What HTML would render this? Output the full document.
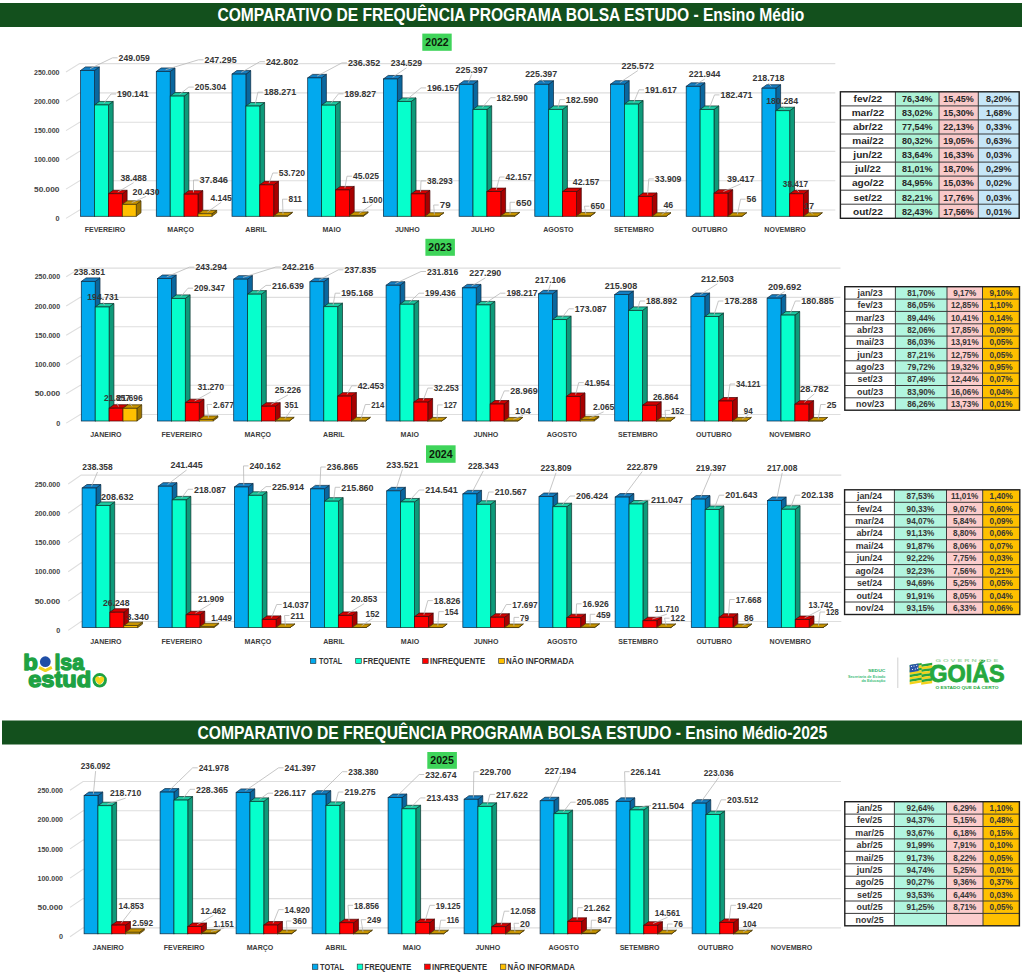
<!DOCTYPE html>
<html><head><meta charset="utf-8"><style>
html,body{margin:0;padding:0;background:#fff;}
svg{display:block;font-family:"Liberation Sans", sans-serif;}
</style></head><body>
<svg width="1024" height="976" viewBox="0 0 1024 976">
<rect width="1024" height="976" fill="#ffffff"/>
<rect x="0" y="3" width="1022" height="24" fill="#13501d"/>
<text x="217.4" y="21.2" font-size="18.2" font-weight="bold" fill="#ffffff" text-anchor="start" textLength="586.9" lengthAdjust="spacingAndGlyphs">COMPARATIVO DE FREQUÊNCIA PROGRAMA BOLSA ESTUDO - Ensino Médio</text>
<rect x="2" y="720.5" width="1020" height="24.0" fill="#13501d"/>
<text x="197.4" y="738.6" font-size="17.6" font-weight="bold" fill="#ffffff" text-anchor="start" textLength="629.9" lengthAdjust="spacingAndGlyphs">COMPARATIVO DE FREQUÊNCIA PROGRAMA BOLSA ESTUDO - Ensino Médio-2025</text>
<rect x="422.3" y="33.6" width="29.4" height="17.2" fill="#3fd45a"/>
<text x="437.0" y="46.2" font-size="11" font-weight="bold" fill="#0b1a0b" text-anchor="middle" textLength="23.4" lengthAdjust="spacingAndGlyphs">2022</text>
<rect x="425.4" y="238.8" width="29.5" height="17.0" fill="#3fd45a"/>
<text x="440.1" y="251.3" font-size="11" font-weight="bold" fill="#0b1a0b" text-anchor="middle" textLength="23.5" lengthAdjust="spacingAndGlyphs">2023</text>
<rect x="426.0" y="445.3" width="29.6" height="17.5" fill="#3fd45a"/>
<text x="440.8" y="458.1" font-size="11" font-weight="bold" fill="#0b1a0b" text-anchor="middle" textLength="23.6" lengthAdjust="spacingAndGlyphs">2024</text>
<rect x="427.3" y="752.0" width="29.6" height="16.8" fill="#3fd45a"/>
<text x="442.1" y="764.4" font-size="11" font-weight="bold" fill="#0b1a0b" text-anchor="middle" textLength="23.6" lengthAdjust="spacingAndGlyphs">2025</text>
<path d="M66,218.4L79.6,210.0L835.3,210.0" fill="none" stroke="#dedede" stroke-width="1.1"/>
<text x="59.5" y="221.0" font-size="7.2" font-weight="bold" fill="#444444" text-anchor="end">0</text>
<path d="M66,189.1L79.6,180.7L835.3,180.7" fill="none" stroke="#dedede" stroke-width="1.1"/>
<text x="59.5" y="191.7" font-size="7.2" font-weight="bold" fill="#444444" text-anchor="end" textLength="25.5" lengthAdjust="spacingAndGlyphs">50.000</text>
<path d="M66,159.8L79.6,151.4L835.3,151.4" fill="none" stroke="#dedede" stroke-width="1.1"/>
<text x="59.5" y="162.4" font-size="7.2" font-weight="bold" fill="#444444" text-anchor="end" textLength="25.5" lengthAdjust="spacingAndGlyphs">100.000</text>
<path d="M66,130.6L79.6,122.2L835.3,122.2" fill="none" stroke="#dedede" stroke-width="1.1"/>
<text x="59.5" y="133.2" font-size="7.2" font-weight="bold" fill="#444444" text-anchor="end" textLength="25.5" lengthAdjust="spacingAndGlyphs">150.000</text>
<path d="M66,101.3L79.6,92.9L835.3,92.9" fill="none" stroke="#dedede" stroke-width="1.1"/>
<text x="59.5" y="103.9" font-size="7.2" font-weight="bold" fill="#444444" text-anchor="end" textLength="25.5" lengthAdjust="spacingAndGlyphs">200.000</text>
<path d="M66,72.0L79.6,63.6L835.3,63.6" fill="none" stroke="#dedede" stroke-width="1.1"/>
<text x="59.5" y="74.6" font-size="7.2" font-weight="bold" fill="#444444" text-anchor="end" textLength="25.5" lengthAdjust="spacingAndGlyphs">250.000</text>
<path d="M94.50,216.30L99.30,212.80L99.30,66.95L94.50,70.45Z" fill="#0a679e" stroke="#0f2f48" stroke-width="0.75"/>
<path d="M80.60,70.45L85.40,66.95L99.30,66.95L94.50,70.45Z" fill="#157fc2" stroke="#0f2f48" stroke-width="0.75"/>
<rect x="80.60" y="70.45" width="13.90" height="145.85" fill="#02a9ee" stroke="#0f2f48" stroke-width="0.75"/>
<path d="M108.40,216.30L113.20,212.80L113.20,101.45L108.40,104.95Z" fill="#0e9a7a" stroke="#0c3a32" stroke-width="0.75"/>
<path d="M94.50,104.95L99.30,101.45L113.20,101.45L108.40,104.95Z" fill="#1fcaa2" stroke="#0c3a32" stroke-width="0.75"/>
<rect x="94.50" y="104.95" width="13.90" height="111.35" fill="#06ffcc" stroke="#0c3a32" stroke-width="0.75"/>
<path d="M122.30,216.30L127.10,212.80L127.10,190.26L122.30,193.76Z" fill="#a80000" stroke="#4a0a0a" stroke-width="0.75"/>
<path d="M108.40,193.76L113.20,190.26L127.10,190.26L122.30,193.76Z" fill="#d40000" stroke="#4a0a0a" stroke-width="0.75"/>
<rect x="108.40" y="193.76" width="13.90" height="22.54" fill="#ff0000" stroke="#4a0a0a" stroke-width="0.75"/>
<path d="M136.20,216.30L141.00,212.80L141.00,200.84L136.20,204.34Z" fill="#9c7400" stroke="#4a3a0a" stroke-width="0.75"/>
<path d="M122.30,204.34L127.10,200.84L141.00,200.84L136.20,204.34Z" fill="#c89400" stroke="#4a3a0a" stroke-width="0.75"/>
<rect x="122.30" y="204.34" width="13.90" height="11.96" fill="#ffc000" stroke="#4a3a0a" stroke-width="0.75"/>
<text x="105.0" y="232.0" font-size="8.1" font-weight="bold" fill="#3c3c3c" text-anchor="middle" textLength="40.7" lengthAdjust="spacingAndGlyphs">FEVEREIRO</text>
<path d="M170.20,216.30L175.00,212.80L175.00,67.98L170.20,71.48Z" fill="#0a679e" stroke="#0f2f48" stroke-width="0.75"/>
<path d="M156.30,71.48L161.10,67.98L175.00,67.98L170.20,71.48Z" fill="#157fc2" stroke="#0f2f48" stroke-width="0.75"/>
<rect x="156.30" y="71.48" width="13.90" height="144.82" fill="#02a9ee" stroke="#0f2f48" stroke-width="0.75"/>
<path d="M184.10,216.30L188.90,212.80L188.90,92.57L184.10,96.07Z" fill="#0e9a7a" stroke="#0c3a32" stroke-width="0.75"/>
<path d="M170.20,96.07L175.00,92.57L188.90,92.57L184.10,96.07Z" fill="#1fcaa2" stroke="#0c3a32" stroke-width="0.75"/>
<rect x="170.20" y="96.07" width="13.90" height="120.23" fill="#06ffcc" stroke="#0c3a32" stroke-width="0.75"/>
<path d="M198.00,216.30L202.80,212.80L202.80,190.64L198.00,194.14Z" fill="#a80000" stroke="#4a0a0a" stroke-width="0.75"/>
<path d="M184.10,194.14L188.90,190.64L202.80,190.64L198.00,194.14Z" fill="#d40000" stroke="#4a0a0a" stroke-width="0.75"/>
<rect x="184.10" y="194.14" width="13.90" height="22.16" fill="#ff0000" stroke="#4a0a0a" stroke-width="0.75"/>
<path d="M211.90,216.30L216.70,212.80L216.70,210.37L211.90,213.87Z" fill="#9c7400" stroke="#4a3a0a" stroke-width="0.75"/>
<path d="M198.00,213.87L202.80,210.37L216.70,210.37L211.90,213.87Z" fill="#c89400" stroke="#4a3a0a" stroke-width="0.75"/>
<rect x="198.00" y="213.87" width="13.90" height="2.43" fill="#ffc000" stroke="#4a3a0a" stroke-width="0.75"/>
<text x="180.6" y="232.0" font-size="8.1" font-weight="bold" fill="#3c3c3c" text-anchor="middle" textLength="26.6" lengthAdjust="spacingAndGlyphs">MARÇO</text>
<path d="M245.90,216.30L250.70,212.80L250.70,70.62L245.90,74.12Z" fill="#0a679e" stroke="#0f2f48" stroke-width="0.75"/>
<path d="M232.00,74.12L236.80,70.62L250.70,70.62L245.90,74.12Z" fill="#157fc2" stroke="#0f2f48" stroke-width="0.75"/>
<rect x="232.00" y="74.12" width="13.90" height="142.18" fill="#02a9ee" stroke="#0f2f48" stroke-width="0.75"/>
<path d="M259.80,216.30L264.60,212.80L264.60,102.55L259.80,106.05Z" fill="#0e9a7a" stroke="#0c3a32" stroke-width="0.75"/>
<path d="M245.90,106.05L250.70,102.55L264.60,102.55L259.80,106.05Z" fill="#1fcaa2" stroke="#0c3a32" stroke-width="0.75"/>
<rect x="245.90" y="106.05" width="13.90" height="110.25" fill="#06ffcc" stroke="#0c3a32" stroke-width="0.75"/>
<path d="M273.70,216.30L278.50,212.80L278.50,181.34L273.70,184.84Z" fill="#a80000" stroke="#4a0a0a" stroke-width="0.75"/>
<path d="M259.80,184.84L264.60,181.34L278.50,181.34L273.70,184.84Z" fill="#d40000" stroke="#4a0a0a" stroke-width="0.75"/>
<rect x="259.80" y="184.84" width="13.90" height="31.46" fill="#ff0000" stroke="#4a0a0a" stroke-width="0.75"/>
<path d="M287.60,216.30L292.40,212.80L292.40,212.33L287.60,215.83Z" fill="#9c7400" stroke="#4a3a0a" stroke-width="0.75"/>
<path d="M273.70,215.83L278.50,212.33L292.40,212.33L287.60,215.83Z" fill="#c89400" stroke="#4a3a0a" stroke-width="0.75"/>
<rect x="273.70" y="215.83" width="13.90" height="0.47" fill="#ffc000" stroke="#4a3a0a" stroke-width="0.75"/>
<text x="256.1" y="232.0" font-size="8.1" font-weight="bold" fill="#3c3c3c" text-anchor="middle" textLength="21.5" lengthAdjust="spacingAndGlyphs">ABRIL</text>
<path d="M321.60,216.30L326.40,212.80L326.40,74.39L321.60,77.89Z" fill="#0a679e" stroke="#0f2f48" stroke-width="0.75"/>
<path d="M307.70,77.89L312.50,74.39L326.40,74.39L321.60,77.89Z" fill="#157fc2" stroke="#0f2f48" stroke-width="0.75"/>
<rect x="307.70" y="77.89" width="13.90" height="138.41" fill="#02a9ee" stroke="#0f2f48" stroke-width="0.75"/>
<path d="M335.50,216.30L340.30,212.80L340.30,101.64L335.50,105.14Z" fill="#0e9a7a" stroke="#0c3a32" stroke-width="0.75"/>
<path d="M321.60,105.14L326.40,101.64L340.30,101.64L335.50,105.14Z" fill="#1fcaa2" stroke="#0c3a32" stroke-width="0.75"/>
<rect x="321.60" y="105.14" width="13.90" height="111.16" fill="#06ffcc" stroke="#0c3a32" stroke-width="0.75"/>
<path d="M349.40,216.30L354.20,212.80L354.20,186.43L349.40,189.93Z" fill="#a80000" stroke="#4a0a0a" stroke-width="0.75"/>
<path d="M335.50,189.93L340.30,186.43L354.20,186.43L349.40,189.93Z" fill="#d40000" stroke="#4a0a0a" stroke-width="0.75"/>
<rect x="335.50" y="189.93" width="13.90" height="26.37" fill="#ff0000" stroke="#4a0a0a" stroke-width="0.75"/>
<path d="M363.30,216.30L368.10,212.80L368.10,211.92L363.30,215.42Z" fill="#9c7400" stroke="#4a3a0a" stroke-width="0.75"/>
<path d="M349.40,215.42L354.20,211.92L368.10,211.92L363.30,215.42Z" fill="#c89400" stroke="#4a3a0a" stroke-width="0.75"/>
<rect x="349.40" y="215.42" width="13.90" height="0.88" fill="#ffc000" stroke="#4a3a0a" stroke-width="0.75"/>
<text x="331.7" y="232.0" font-size="8.1" font-weight="bold" fill="#3c3c3c" text-anchor="middle" textLength="18.4" lengthAdjust="spacingAndGlyphs">MAIO</text>
<path d="M397.30,216.30L402.10,212.80L402.10,75.46L397.30,78.96Z" fill="#0a679e" stroke="#0f2f48" stroke-width="0.75"/>
<path d="M383.40,78.96L388.20,75.46L402.10,75.46L397.30,78.96Z" fill="#157fc2" stroke="#0f2f48" stroke-width="0.75"/>
<rect x="383.40" y="78.96" width="13.90" height="137.34" fill="#02a9ee" stroke="#0f2f48" stroke-width="0.75"/>
<path d="M411.20,216.30L416.00,212.80L416.00,97.93L411.20,101.43Z" fill="#0e9a7a" stroke="#0c3a32" stroke-width="0.75"/>
<path d="M397.30,101.43L402.10,97.93L416.00,97.93L411.20,101.43Z" fill="#1fcaa2" stroke="#0c3a32" stroke-width="0.75"/>
<rect x="397.30" y="101.43" width="13.90" height="114.87" fill="#06ffcc" stroke="#0c3a32" stroke-width="0.75"/>
<path d="M425.10,216.30L429.90,212.80L429.90,190.38L425.10,193.88Z" fill="#a80000" stroke="#4a0a0a" stroke-width="0.75"/>
<path d="M411.20,193.88L416.00,190.38L429.90,190.38L425.10,193.88Z" fill="#d40000" stroke="#4a0a0a" stroke-width="0.75"/>
<rect x="411.20" y="193.88" width="13.90" height="22.42" fill="#ff0000" stroke="#4a0a0a" stroke-width="0.75"/>
<path d="M439.00,216.30L443.80,212.80L443.80,212.75L439.00,216.25Z" fill="#9c7400" stroke="#4a3a0a" stroke-width="0.75"/>
<path d="M425.10,216.25L429.90,212.75L443.80,212.75L439.00,216.25Z" fill="#c89400" stroke="#4a3a0a" stroke-width="0.75"/>
<rect x="425.10" y="216.25" width="13.90" height="0.05" fill="#ffc000" stroke="#4a3a0a" stroke-width="0.75"/>
<text x="407.3" y="232.0" font-size="8.1" font-weight="bold" fill="#3c3c3c" text-anchor="middle" textLength="24.7" lengthAdjust="spacingAndGlyphs">JUNHO</text>
<path d="M473.00,216.30L477.80,212.80L477.80,80.81L473.00,84.31Z" fill="#0a679e" stroke="#0f2f48" stroke-width="0.75"/>
<path d="M459.10,84.31L463.90,80.81L477.80,80.81L473.00,84.31Z" fill="#157fc2" stroke="#0f2f48" stroke-width="0.75"/>
<rect x="459.10" y="84.31" width="13.90" height="131.99" fill="#02a9ee" stroke="#0f2f48" stroke-width="0.75"/>
<path d="M486.90,216.30L491.70,212.80L491.70,105.88L486.90,109.38Z" fill="#0e9a7a" stroke="#0c3a32" stroke-width="0.75"/>
<path d="M473.00,109.38L477.80,105.88L491.70,105.88L486.90,109.38Z" fill="#1fcaa2" stroke="#0c3a32" stroke-width="0.75"/>
<rect x="473.00" y="109.38" width="13.90" height="106.92" fill="#06ffcc" stroke="#0c3a32" stroke-width="0.75"/>
<path d="M500.80,216.30L505.60,212.80L505.60,188.11L500.80,191.61Z" fill="#a80000" stroke="#4a0a0a" stroke-width="0.75"/>
<path d="M486.90,191.61L491.70,188.11L505.60,188.11L500.80,191.61Z" fill="#d40000" stroke="#4a0a0a" stroke-width="0.75"/>
<rect x="486.90" y="191.61" width="13.90" height="24.69" fill="#ff0000" stroke="#4a0a0a" stroke-width="0.75"/>
<path d="M514.70,216.30L519.50,212.80L519.50,212.42L514.70,215.92Z" fill="#9c7400" stroke="#4a3a0a" stroke-width="0.75"/>
<path d="M500.80,215.92L505.60,212.42L519.50,212.42L514.70,215.92Z" fill="#c89400" stroke="#4a3a0a" stroke-width="0.75"/>
<rect x="500.80" y="215.92" width="13.90" height="0.38" fill="#ffc000" stroke="#4a3a0a" stroke-width="0.75"/>
<text x="482.9" y="232.0" font-size="8.1" font-weight="bold" fill="#3c3c3c" text-anchor="middle" textLength="23.9" lengthAdjust="spacingAndGlyphs">JULHO</text>
<path d="M548.70,216.30L553.50,212.80L553.50,80.81L548.70,84.31Z" fill="#0a679e" stroke="#0f2f48" stroke-width="0.75"/>
<path d="M534.80,84.31L539.60,80.81L553.50,80.81L548.70,84.31Z" fill="#157fc2" stroke="#0f2f48" stroke-width="0.75"/>
<rect x="534.80" y="84.31" width="13.90" height="131.99" fill="#02a9ee" stroke="#0f2f48" stroke-width="0.75"/>
<path d="M562.60,216.30L567.40,212.80L567.40,105.88L562.60,109.38Z" fill="#0e9a7a" stroke="#0c3a32" stroke-width="0.75"/>
<path d="M548.70,109.38L553.50,105.88L567.40,105.88L562.60,109.38Z" fill="#1fcaa2" stroke="#0c3a32" stroke-width="0.75"/>
<rect x="548.70" y="109.38" width="13.90" height="106.92" fill="#06ffcc" stroke="#0c3a32" stroke-width="0.75"/>
<path d="M576.50,216.30L581.30,212.80L581.30,188.11L576.50,191.61Z" fill="#a80000" stroke="#4a0a0a" stroke-width="0.75"/>
<path d="M562.60,191.61L567.40,188.11L581.30,188.11L576.50,191.61Z" fill="#d40000" stroke="#4a0a0a" stroke-width="0.75"/>
<rect x="562.60" y="191.61" width="13.90" height="24.69" fill="#ff0000" stroke="#4a0a0a" stroke-width="0.75"/>
<path d="M590.40,216.30L595.20,212.80L595.20,212.42L590.40,215.92Z" fill="#9c7400" stroke="#4a3a0a" stroke-width="0.75"/>
<path d="M576.50,215.92L581.30,212.42L595.20,212.42L590.40,215.92Z" fill="#c89400" stroke="#4a3a0a" stroke-width="0.75"/>
<rect x="576.50" y="215.92" width="13.90" height="0.38" fill="#ffc000" stroke="#4a3a0a" stroke-width="0.75"/>
<text x="558.4" y="232.0" font-size="8.1" font-weight="bold" fill="#3c3c3c" text-anchor="middle" textLength="30.4" lengthAdjust="spacingAndGlyphs">AGOSTO</text>
<path d="M624.40,216.30L629.20,212.80L629.20,80.71L624.40,84.21Z" fill="#0a679e" stroke="#0f2f48" stroke-width="0.75"/>
<path d="M610.50,84.21L615.30,80.71L629.20,80.71L624.40,84.21Z" fill="#157fc2" stroke="#0f2f48" stroke-width="0.75"/>
<rect x="610.50" y="84.21" width="13.90" height="132.09" fill="#02a9ee" stroke="#0f2f48" stroke-width="0.75"/>
<path d="M638.30,216.30L643.10,212.80L643.10,100.59L638.30,104.09Z" fill="#0e9a7a" stroke="#0c3a32" stroke-width="0.75"/>
<path d="M624.40,104.09L629.20,100.59L643.10,100.59L638.30,104.09Z" fill="#1fcaa2" stroke="#0c3a32" stroke-width="0.75"/>
<rect x="624.40" y="104.09" width="13.90" height="112.21" fill="#06ffcc" stroke="#0c3a32" stroke-width="0.75"/>
<path d="M652.20,216.30L657.00,212.80L657.00,192.94L652.20,196.44Z" fill="#a80000" stroke="#4a0a0a" stroke-width="0.75"/>
<path d="M638.30,196.44L643.10,192.94L657.00,192.94L652.20,196.44Z" fill="#d40000" stroke="#4a0a0a" stroke-width="0.75"/>
<rect x="638.30" y="196.44" width="13.90" height="19.86" fill="#ff0000" stroke="#4a0a0a" stroke-width="0.75"/>
<path d="M666.10,216.30L670.90,212.80L670.90,212.77L666.10,216.27Z" fill="#9c7400" stroke="#4a3a0a" stroke-width="0.75"/>
<path d="M652.20,216.27L657.00,212.77L670.90,212.77L666.10,216.27Z" fill="#c89400" stroke="#4a3a0a" stroke-width="0.75"/>
<rect x="652.20" y="216.27" width="13.90" height="0.03" fill="#ffc000" stroke="#4a3a0a" stroke-width="0.75"/>
<text x="634.0" y="232.0" font-size="8.1" font-weight="bold" fill="#3c3c3c" text-anchor="middle" textLength="39.9" lengthAdjust="spacingAndGlyphs">SETEMBRO</text>
<path d="M700.10,216.30L704.90,212.80L704.90,82.83L700.10,86.33Z" fill="#0a679e" stroke="#0f2f48" stroke-width="0.75"/>
<path d="M686.20,86.33L691.00,82.83L704.90,82.83L700.10,86.33Z" fill="#157fc2" stroke="#0f2f48" stroke-width="0.75"/>
<rect x="686.20" y="86.33" width="13.90" height="129.97" fill="#02a9ee" stroke="#0f2f48" stroke-width="0.75"/>
<path d="M714.00,216.30L718.80,212.80L718.80,105.94L714.00,109.44Z" fill="#0e9a7a" stroke="#0c3a32" stroke-width="0.75"/>
<path d="M700.10,109.44L704.90,105.94L718.80,105.94L714.00,109.44Z" fill="#1fcaa2" stroke="#0c3a32" stroke-width="0.75"/>
<rect x="700.10" y="109.44" width="13.90" height="106.86" fill="#06ffcc" stroke="#0c3a32" stroke-width="0.75"/>
<path d="M727.90,216.30L732.70,212.80L732.70,189.72L727.90,193.22Z" fill="#a80000" stroke="#4a0a0a" stroke-width="0.75"/>
<path d="M714.00,193.22L718.80,189.72L732.70,189.72L727.90,193.22Z" fill="#d40000" stroke="#4a0a0a" stroke-width="0.75"/>
<rect x="714.00" y="193.22" width="13.90" height="23.08" fill="#ff0000" stroke="#4a0a0a" stroke-width="0.75"/>
<path d="M741.80,216.30L746.60,212.80L746.60,212.77L741.80,216.27Z" fill="#9c7400" stroke="#4a3a0a" stroke-width="0.75"/>
<path d="M727.90,216.27L732.70,212.77L746.60,212.77L741.80,216.27Z" fill="#c89400" stroke="#4a3a0a" stroke-width="0.75"/>
<rect x="727.90" y="216.27" width="13.90" height="0.03" fill="#ffc000" stroke="#4a3a0a" stroke-width="0.75"/>
<text x="709.6" y="232.0" font-size="8.1" font-weight="bold" fill="#3c3c3c" text-anchor="middle" textLength="35.6" lengthAdjust="spacingAndGlyphs">OUTUBRO</text>
<path d="M775.80,216.30L780.60,212.80L780.60,84.72L775.80,88.22Z" fill="#0a679e" stroke="#0f2f48" stroke-width="0.75"/>
<path d="M761.90,88.22L766.70,84.72L780.60,84.72L775.80,88.22Z" fill="#157fc2" stroke="#0f2f48" stroke-width="0.75"/>
<rect x="761.90" y="88.22" width="13.90" height="128.08" fill="#02a9ee" stroke="#0f2f48" stroke-width="0.75"/>
<path d="M789.70,216.30L794.50,212.80L794.50,107.23L789.70,110.73Z" fill="#0e9a7a" stroke="#0c3a32" stroke-width="0.75"/>
<path d="M775.80,110.73L780.60,107.23L794.50,107.23L789.70,110.73Z" fill="#1fcaa2" stroke="#0c3a32" stroke-width="0.75"/>
<rect x="775.80" y="110.73" width="13.90" height="105.57" fill="#06ffcc" stroke="#0c3a32" stroke-width="0.75"/>
<path d="M803.60,216.30L808.40,212.80L808.40,190.30L803.60,193.80Z" fill="#a80000" stroke="#4a0a0a" stroke-width="0.75"/>
<path d="M789.70,193.80L794.50,190.30L808.40,190.30L803.60,193.80Z" fill="#d40000" stroke="#4a0a0a" stroke-width="0.75"/>
<rect x="789.70" y="193.80" width="13.90" height="22.50" fill="#ff0000" stroke="#4a0a0a" stroke-width="0.75"/>
<path d="M817.50,216.30L822.30,212.80L822.30,212.79L817.50,216.29Z" fill="#9c7400" stroke="#4a3a0a" stroke-width="0.75"/>
<path d="M803.60,216.29L808.40,212.79L822.30,212.79L817.50,216.29Z" fill="#c89400" stroke="#4a3a0a" stroke-width="0.75"/>
<rect x="803.60" y="216.29" width="13.90" height="0.01" fill="#ffc000" stroke="#4a3a0a" stroke-width="0.75"/>
<text x="785.1" y="232.0" font-size="8.1" font-weight="bold" fill="#3c3c3c" text-anchor="middle" textLength="41.5" lengthAdjust="spacingAndGlyphs">NOVEMBRO</text>
<path d="M117.6,57.8L112.6,57.8L90.0,68.7" fill="none" stroke="#b8b8b8" stroke-width="0.8"/>
<text x="118.6" y="61.0" font-size="9" font-weight="bold" fill="#363636" text-anchor="start" textLength="31.2" lengthAdjust="spacingAndGlyphs">249.059</text>
<path d="M116.0,94.0L111.0,94.0L103.9,103.2" fill="none" stroke="#b8b8b8" stroke-width="0.8"/>
<text x="117.0" y="97.2" font-size="9" font-weight="bold" fill="#363636" text-anchor="start" textLength="31.7" lengthAdjust="spacingAndGlyphs">190.141</text>
<path d="M133.6,182.7L117.8,192.0" fill="none" stroke="#b8b8b8" stroke-width="0.8"/>
<text x="120.5" y="180.9" font-size="9" font-weight="bold" fill="#363636" text-anchor="start" textLength="26.2" lengthAdjust="spacingAndGlyphs">38.488</text>
<path d="M146.1,196.4L131.7,202.6" fill="none" stroke="#b8b8b8" stroke-width="0.8"/>
<text x="132.5" y="194.6" font-size="9" font-weight="bold" fill="#363636" text-anchor="start" textLength="27.2" lengthAdjust="spacingAndGlyphs">20.430</text>
<path d="M203.5,59.8L198.5,59.8L165.7,69.7" fill="none" stroke="#b8b8b8" stroke-width="0.8"/>
<text x="204.5" y="63.0" font-size="9" font-weight="bold" fill="#363636" text-anchor="start" textLength="32.1" lengthAdjust="spacingAndGlyphs">247.295</text>
<path d="M193.8,87.1L188.8,87.1L179.6,94.3" fill="none" stroke="#b8b8b8" stroke-width="0.8"/>
<text x="194.8" y="90.3" font-size="9" font-weight="bold" fill="#363636" text-anchor="start" textLength="31.2" lengthAdjust="spacingAndGlyphs">205.304</text>
<path d="M198.5,180.0L193.5,180.0L193.5,192.4" fill="none" stroke="#b8b8b8" stroke-width="0.8"/>
<text x="199.5" y="183.2" font-size="9" font-weight="bold" fill="#363636" text-anchor="start" textLength="28.5" lengthAdjust="spacingAndGlyphs">37.846</text>
<path d="M221.2,202.3L207.3,212.1" fill="none" stroke="#b8b8b8" stroke-width="0.8"/>
<text x="210.4" y="200.5" font-size="9" font-weight="bold" fill="#363636" text-anchor="start" textLength="21.5" lengthAdjust="spacingAndGlyphs">4.145</text>
<path d="M264.9,61.7L259.9,61.7L241.3,72.4" fill="none" stroke="#b8b8b8" stroke-width="0.8"/>
<text x="265.9" y="64.9" font-size="9" font-weight="bold" fill="#363636" text-anchor="start" textLength="32.4" lengthAdjust="spacingAndGlyphs">242.802</text>
<path d="M262.9,92.2L257.9,92.2L255.2,104.3" fill="none" stroke="#b8b8b8" stroke-width="0.8"/>
<text x="263.9" y="95.4" font-size="9" font-weight="bold" fill="#363636" text-anchor="start" textLength="32.4" lengthAdjust="spacingAndGlyphs">188.271</text>
<path d="M277.8,173.0L272.8,173.0L269.1,183.1" fill="none" stroke="#b8b8b8" stroke-width="0.8"/>
<text x="278.8" y="176.2" font-size="9" font-weight="bold" fill="#363636" text-anchor="start" textLength="26.2" lengthAdjust="spacingAndGlyphs">53.720</text>
<path d="M287.5,199.2L282.5,199.2L283.0,214.1" fill="none" stroke="#b8b8b8" stroke-width="0.8"/>
<text x="288.5" y="202.4" font-size="9" font-weight="bold" fill="#363636" text-anchor="start" textLength="13.5" lengthAdjust="spacingAndGlyphs">811</text>
<path d="M346.9,62.9L341.9,62.9L317.1,76.1" fill="none" stroke="#b8b8b8" stroke-width="0.8"/>
<text x="347.9" y="66.1" font-size="9" font-weight="bold" fill="#363636" text-anchor="start" textLength="32.4" lengthAdjust="spacingAndGlyphs">236.352</text>
<path d="M343.5,93.8L338.5,93.8L330.9,103.4" fill="none" stroke="#b8b8b8" stroke-width="0.8"/>
<text x="344.5" y="97.0" font-size="9" font-weight="bold" fill="#363636" text-anchor="start" textLength="31.5" lengthAdjust="spacingAndGlyphs">189.827</text>
<path d="M352.0,176.2L347.0,176.2L344.9,188.2" fill="none" stroke="#b8b8b8" stroke-width="0.8"/>
<text x="353.0" y="179.4" font-size="9" font-weight="bold" fill="#363636" text-anchor="start" textLength="26.0" lengthAdjust="spacingAndGlyphs">45.025</text>
<path d="M372.2,204.5L358.8,213.7" fill="none" stroke="#b8b8b8" stroke-width="0.8"/>
<text x="362.1" y="202.7" font-size="9" font-weight="bold" fill="#363636" text-anchor="start" textLength="20.3" lengthAdjust="spacingAndGlyphs">1.500</text>
<path d="M406.4,67.9L392.7,77.2" fill="none" stroke="#b8b8b8" stroke-width="0.8"/>
<text x="390.8" y="66.1" font-size="9" font-weight="bold" fill="#363636" text-anchor="start" textLength="31.2" lengthAdjust="spacingAndGlyphs">234.529</text>
<path d="M426.0,87.9L421.0,87.9L406.6,99.7" fill="none" stroke="#b8b8b8" stroke-width="0.8"/>
<text x="427.0" y="91.1" font-size="9" font-weight="bold" fill="#363636" text-anchor="start" textLength="32.0" lengthAdjust="spacingAndGlyphs">196.157</text>
<path d="M426.0,180.9L421.0,180.9L420.5,192.1" fill="none" stroke="#b8b8b8" stroke-width="0.8"/>
<text x="427.0" y="184.1" font-size="9" font-weight="bold" fill="#363636" text-anchor="start" textLength="25.6" lengthAdjust="spacingAndGlyphs">38.293</text>
<path d="M438.7,205.0L433.7,205.0L434.4,214.5" fill="none" stroke="#b8b8b8" stroke-width="0.8"/>
<text x="439.7" y="208.2" font-size="9" font-weight="bold" fill="#363636" text-anchor="start" textLength="10.9" lengthAdjust="spacingAndGlyphs">79</text>
<path d="M471.6,74.5L468.4,82.6" fill="none" stroke="#b8b8b8" stroke-width="0.8"/>
<text x="455.6" y="72.7" font-size="9" font-weight="bold" fill="#363636" text-anchor="start" textLength="32.1" lengthAdjust="spacingAndGlyphs">225.397</text>
<path d="M495.6,97.7L490.6,97.7L482.3,107.6" fill="none" stroke="#b8b8b8" stroke-width="0.8"/>
<text x="496.6" y="100.9" font-size="9" font-weight="bold" fill="#363636" text-anchor="start" textLength="31.3" lengthAdjust="spacingAndGlyphs">182.590</text>
<path d="M504.6,177.0L499.6,177.0L496.2,189.9" fill="none" stroke="#b8b8b8" stroke-width="0.8"/>
<text x="505.6" y="180.2" font-size="9" font-weight="bold" fill="#363636" text-anchor="start" textLength="26.2" lengthAdjust="spacingAndGlyphs">42.157</text>
<path d="M515.0,202.3L510.0,202.3L510.1,214.2" fill="none" stroke="#b8b8b8" stroke-width="0.8"/>
<text x="516.0" y="205.5" font-size="9" font-weight="bold" fill="#363636" text-anchor="start" textLength="15.8" lengthAdjust="spacingAndGlyphs">650</text>
<path d="M541.2,79.2L544.2,82.6" fill="none" stroke="#b8b8b8" stroke-width="0.8"/>
<text x="525.2" y="77.4" font-size="9" font-weight="bold" fill="#363636" text-anchor="start" textLength="32.0" lengthAdjust="spacingAndGlyphs">225.397</text>
<path d="M564.8,99.6L559.8,99.6L558.1,107.6" fill="none" stroke="#b8b8b8" stroke-width="0.8"/>
<text x="565.8" y="102.8" font-size="9" font-weight="bold" fill="#363636" text-anchor="start" textLength="32.4" lengthAdjust="spacingAndGlyphs">182.590</text>
<text x="572.8" y="185.2" font-size="9" font-weight="bold" fill="#363636" text-anchor="start" textLength="26.6" lengthAdjust="spacingAndGlyphs">42.157</text>
<path d="M589.4,206.2L584.4,206.2L585.9,214.2" fill="none" stroke="#b8b8b8" stroke-width="0.8"/>
<text x="590.4" y="209.4" font-size="9" font-weight="bold" fill="#363636" text-anchor="start" textLength="14.4" lengthAdjust="spacingAndGlyphs">650</text>
<path d="M637.8,70.6L619.9,82.5" fill="none" stroke="#b8b8b8" stroke-width="0.8"/>
<text x="621.6" y="68.8" font-size="9" font-weight="bold" fill="#363636" text-anchor="start" textLength="32.4" lengthAdjust="spacingAndGlyphs">225.572</text>
<path d="M644.0,89.8L639.0,89.8L633.8,102.3" fill="none" stroke="#b8b8b8" stroke-width="0.8"/>
<text x="645.0" y="93.0" font-size="9" font-weight="bold" fill="#363636" text-anchor="start" textLength="32.0" lengthAdjust="spacingAndGlyphs">191.617</text>
<path d="M653.8,178.9L648.8,178.9L647.6,194.7" fill="none" stroke="#b8b8b8" stroke-width="0.8"/>
<text x="654.8" y="182.1" font-size="9" font-weight="bold" fill="#363636" text-anchor="start" textLength="26.6" lengthAdjust="spacingAndGlyphs">33.909</text>
<path d="M668.3,210.0L661.6,214.5" fill="none" stroke="#b8b8b8" stroke-width="0.8"/>
<text x="663.4" y="208.2" font-size="9" font-weight="bold" fill="#363636" text-anchor="start" textLength="9.8" lengthAdjust="spacingAndGlyphs">46</text>
<path d="M704.6,79.2L695.6,84.6" fill="none" stroke="#b8b8b8" stroke-width="0.8"/>
<text x="688.8" y="77.4" font-size="9" font-weight="bold" fill="#363636" text-anchor="start" textLength="31.7" lengthAdjust="spacingAndGlyphs">221.944</text>
<path d="M719.5,94.9L714.5,94.9L709.5,107.7" fill="none" stroke="#b8b8b8" stroke-width="0.8"/>
<text x="720.5" y="98.1" font-size="9" font-weight="bold" fill="#363636" text-anchor="start" textLength="32.0" lengthAdjust="spacingAndGlyphs">182.471</text>
<path d="M740.8,183.9L723.4,191.5" fill="none" stroke="#b8b8b8" stroke-width="0.8"/>
<text x="727.0" y="182.1" font-size="9" font-weight="bold" fill="#363636" text-anchor="start" textLength="27.5" lengthAdjust="spacingAndGlyphs">39.417</text>
<path d="M745.6,199.2L740.6,199.2L737.3,214.5" fill="none" stroke="#b8b8b8" stroke-width="0.8"/>
<text x="746.6" y="202.4" font-size="9" font-weight="bold" fill="#363636" text-anchor="start" textLength="9.8" lengthAdjust="spacingAndGlyphs">56</text>
<path d="M768.5,83.1L771.3,86.5" fill="none" stroke="#b8b8b8" stroke-width="0.8"/>
<text x="752.5" y="81.3" font-size="9" font-weight="bold" fill="#363636" text-anchor="start" textLength="32.0" lengthAdjust="spacingAndGlyphs">218.718</text>
<path d="M782.2,105.8L785.2,109.0" fill="none" stroke="#b8b8b8" stroke-width="0.8"/>
<text x="766.2" y="104.0" font-size="9" font-weight="bold" fill="#363636" text-anchor="start" textLength="32.0" lengthAdjust="spacingAndGlyphs">180.284</text>
<path d="M795.4,188.6L799.1,192.1" fill="none" stroke="#b8b8b8" stroke-width="0.8"/>
<text x="782.8" y="186.8" font-size="9" font-weight="bold" fill="#363636" text-anchor="start" textLength="25.2" lengthAdjust="spacingAndGlyphs">38.417</text>
<path d="M809.1,210.5L813.0,214.5" fill="none" stroke="#b8b8b8" stroke-width="0.8"/>
<text x="804.0" y="208.7" font-size="9" font-weight="bold" fill="#363636" text-anchor="start" textLength="10.2" lengthAdjust="spacingAndGlyphs">17</text>
<rect x="840.4" y="91.8" width="55.0" height="126.5" fill="#ffffff"/>
<rect x="895.4" y="91.8" width="43.6" height="126.5" fill="#aef2d6"/>
<rect x="939.0" y="91.8" width="39.3" height="126.5" fill="#f8c9c9"/>
<rect x="978.3" y="91.8" width="40.9" height="126.5" fill="#c6e6f7"/>
<line x1="840.4" y1="105.9" x2="1019.2" y2="105.9" stroke="#3a3a3a" stroke-width="1"/>
<line x1="840.4" y1="119.9" x2="1019.2" y2="119.9" stroke="#3a3a3a" stroke-width="1"/>
<line x1="840.4" y1="134.0" x2="1019.2" y2="134.0" stroke="#3a3a3a" stroke-width="1"/>
<line x1="840.4" y1="148.0" x2="1019.2" y2="148.0" stroke="#3a3a3a" stroke-width="1"/>
<line x1="840.4" y1="162.1" x2="1019.2" y2="162.1" stroke="#3a3a3a" stroke-width="1"/>
<line x1="840.4" y1="176.1" x2="1019.2" y2="176.1" stroke="#3a3a3a" stroke-width="1"/>
<line x1="840.4" y1="190.2" x2="1019.2" y2="190.2" stroke="#3a3a3a" stroke-width="1"/>
<line x1="840.4" y1="204.2" x2="1019.2" y2="204.2" stroke="#3a3a3a" stroke-width="1"/>
<line x1="895.4" y1="91.8" x2="895.4" y2="218.3" stroke="#3a3a3a" stroke-width="1"/>
<line x1="939.0" y1="91.8" x2="939.0" y2="218.3" stroke="#3a3a3a" stroke-width="1"/>
<line x1="978.3" y1="91.8" x2="978.3" y2="218.3" stroke="#3a3a3a" stroke-width="1"/>
<rect x="840.4" y="91.8" width="178.8" height="126.5" fill="none" stroke="#1e1e1e" stroke-width="1.4"/>
<text x="867.9" y="102.1" font-size="9" font-weight="bold" fill="#262626" text-anchor="middle" textLength="28.6" lengthAdjust="spacingAndGlyphs">fev/22</text>
<text x="917.2" y="102.1" font-size="9" font-weight="bold" fill="#262626" text-anchor="middle">76,34%</text>
<text x="958.6" y="102.1" font-size="9" font-weight="bold" fill="#262626" text-anchor="middle">15,45%</text>
<text x="998.8" y="102.1" font-size="9" font-weight="bold" fill="#262626" text-anchor="middle">8,20%</text>
<text x="867.9" y="116.1" font-size="9" font-weight="bold" fill="#262626" text-anchor="middle" textLength="32.5" lengthAdjust="spacingAndGlyphs">mar/22</text>
<text x="917.2" y="116.1" font-size="9" font-weight="bold" fill="#262626" text-anchor="middle">83,02%</text>
<text x="958.6" y="116.1" font-size="9" font-weight="bold" fill="#262626" text-anchor="middle">15,30%</text>
<text x="998.8" y="116.1" font-size="9" font-weight="bold" fill="#262626" text-anchor="middle">1,68%</text>
<text x="867.9" y="130.2" font-size="9" font-weight="bold" fill="#262626" text-anchor="middle" textLength="29.7" lengthAdjust="spacingAndGlyphs">abr/22</text>
<text x="917.2" y="130.2" font-size="9" font-weight="bold" fill="#262626" text-anchor="middle">77,54%</text>
<text x="958.6" y="130.2" font-size="9" font-weight="bold" fill="#262626" text-anchor="middle">22,13%</text>
<text x="998.8" y="130.2" font-size="9" font-weight="bold" fill="#262626" text-anchor="middle">0,33%</text>
<text x="867.9" y="144.2" font-size="9" font-weight="bold" fill="#262626" text-anchor="middle" textLength="31.4" lengthAdjust="spacingAndGlyphs">mai/22</text>
<text x="917.2" y="144.2" font-size="9" font-weight="bold" fill="#262626" text-anchor="middle">80,32%</text>
<text x="958.6" y="144.2" font-size="9" font-weight="bold" fill="#262626" text-anchor="middle">19,05%</text>
<text x="998.8" y="144.2" font-size="9" font-weight="bold" fill="#262626" text-anchor="middle">0,63%</text>
<text x="867.9" y="158.3" font-size="9" font-weight="bold" fill="#262626" text-anchor="middle" textLength="29.1" lengthAdjust="spacingAndGlyphs">jun/22</text>
<text x="917.2" y="158.3" font-size="9" font-weight="bold" fill="#262626" text-anchor="middle">83,64%</text>
<text x="958.6" y="158.3" font-size="9" font-weight="bold" fill="#262626" text-anchor="middle">16,33%</text>
<text x="998.8" y="158.3" font-size="9" font-weight="bold" fill="#262626" text-anchor="middle">0,03%</text>
<text x="867.9" y="172.3" font-size="9" font-weight="bold" fill="#262626" text-anchor="middle" textLength="25.8" lengthAdjust="spacingAndGlyphs">jul/22</text>
<text x="917.2" y="172.3" font-size="9" font-weight="bold" fill="#262626" text-anchor="middle">81,01%</text>
<text x="958.6" y="172.3" font-size="9" font-weight="bold" fill="#262626" text-anchor="middle">18,70%</text>
<text x="998.8" y="172.3" font-size="9" font-weight="bold" fill="#262626" text-anchor="middle">0,29%</text>
<text x="867.9" y="186.4" font-size="9" font-weight="bold" fill="#262626" text-anchor="middle" textLength="31.9" lengthAdjust="spacingAndGlyphs">ago/22</text>
<text x="917.2" y="186.4" font-size="9" font-weight="bold" fill="#262626" text-anchor="middle">84,95%</text>
<text x="958.6" y="186.4" font-size="9" font-weight="bold" fill="#262626" text-anchor="middle">15,03%</text>
<text x="998.8" y="186.4" font-size="9" font-weight="bold" fill="#262626" text-anchor="middle">0,02%</text>
<text x="867.9" y="200.5" font-size="9" font-weight="bold" fill="#262626" text-anchor="middle" textLength="28.6" lengthAdjust="spacingAndGlyphs">set/22</text>
<text x="917.2" y="200.5" font-size="9" font-weight="bold" fill="#262626" text-anchor="middle">82,21%</text>
<text x="958.6" y="200.5" font-size="9" font-weight="bold" fill="#262626" text-anchor="middle">17,76%</text>
<text x="998.8" y="200.5" font-size="9" font-weight="bold" fill="#262626" text-anchor="middle">0,03%</text>
<text x="867.9" y="214.5" font-size="9" font-weight="bold" fill="#262626" text-anchor="middle" textLength="29.7" lengthAdjust="spacingAndGlyphs">out/22</text>
<text x="917.2" y="214.5" font-size="9" font-weight="bold" fill="#262626" text-anchor="middle">82,43%</text>
<text x="958.6" y="214.5" font-size="9" font-weight="bold" fill="#262626" text-anchor="middle">17,56%</text>
<text x="998.8" y="214.5" font-size="9" font-weight="bold" fill="#262626" text-anchor="middle">0,01%</text>
<path d="M66.2,423.1L80.3,414.5L840.5,414.5" fill="none" stroke="#dedede" stroke-width="1.1"/>
<text x="60.2" y="425.7" font-size="7.2" font-weight="bold" fill="#444444" text-anchor="end">0</text>
<path d="M66.2,393.8L80.3,385.2L840.5,385.2" fill="none" stroke="#dedede" stroke-width="1.1"/>
<text x="60.2" y="396.4" font-size="7.2" font-weight="bold" fill="#444444" text-anchor="end" textLength="25.5" lengthAdjust="spacingAndGlyphs">50.000</text>
<path d="M66.2,364.5L80.3,355.9L840.5,355.9" fill="none" stroke="#dedede" stroke-width="1.1"/>
<text x="60.2" y="367.1" font-size="7.2" font-weight="bold" fill="#444444" text-anchor="end" textLength="25.5" lengthAdjust="spacingAndGlyphs">100.000</text>
<path d="M66.2,335.3L80.3,326.7L840.5,326.7" fill="none" stroke="#dedede" stroke-width="1.1"/>
<text x="60.2" y="337.9" font-size="7.2" font-weight="bold" fill="#444444" text-anchor="end" textLength="25.5" lengthAdjust="spacingAndGlyphs">150.000</text>
<path d="M66.2,306.0L80.3,297.4L840.5,297.4" fill="none" stroke="#dedede" stroke-width="1.1"/>
<text x="60.2" y="308.6" font-size="7.2" font-weight="bold" fill="#444444" text-anchor="end" textLength="25.5" lengthAdjust="spacingAndGlyphs">200.000</text>
<path d="M66.2,276.7L80.3,268.1L840.5,268.1" fill="none" stroke="#dedede" stroke-width="1.1"/>
<text x="60.2" y="279.3" font-size="7.2" font-weight="bold" fill="#444444" text-anchor="end" textLength="25.5" lengthAdjust="spacingAndGlyphs">250.000</text>
<path d="M95.20,421.00L100.00,417.50L100.00,277.92L95.20,281.42Z" fill="#0a679e" stroke="#0f2f48" stroke-width="0.75"/>
<path d="M81.30,281.42L86.10,277.92L100.00,277.92L95.20,281.42Z" fill="#157fc2" stroke="#0f2f48" stroke-width="0.75"/>
<rect x="81.30" y="281.42" width="13.90" height="139.58" fill="#02a9ee" stroke="#0f2f48" stroke-width="0.75"/>
<path d="M109.10,421.00L113.90,417.50L113.90,303.47L109.10,306.97Z" fill="#0e9a7a" stroke="#0c3a32" stroke-width="0.75"/>
<path d="M95.20,306.97L100.00,303.47L113.90,303.47L109.10,306.97Z" fill="#1fcaa2" stroke="#0c3a32" stroke-width="0.75"/>
<rect x="95.20" y="306.97" width="13.90" height="114.03" fill="#06ffcc" stroke="#0c3a32" stroke-width="0.75"/>
<path d="M123.00,421.00L127.80,417.50L127.80,404.70L123.00,408.20Z" fill="#a80000" stroke="#4a0a0a" stroke-width="0.75"/>
<path d="M109.10,408.20L113.90,404.70L127.80,404.70L123.00,408.20Z" fill="#d40000" stroke="#4a0a0a" stroke-width="0.75"/>
<rect x="109.10" y="408.20" width="13.90" height="12.80" fill="#ff0000" stroke="#4a0a0a" stroke-width="0.75"/>
<path d="M136.90,421.00L141.70,417.50L141.70,404.79L136.90,408.29Z" fill="#9c7400" stroke="#4a3a0a" stroke-width="0.75"/>
<path d="M123.00,408.29L127.80,404.79L141.70,404.79L136.90,408.29Z" fill="#c89400" stroke="#4a3a0a" stroke-width="0.75"/>
<rect x="123.00" y="408.29" width="13.90" height="12.71" fill="#ffc000" stroke="#4a3a0a" stroke-width="0.75"/>
<text x="105.8" y="436.5" font-size="8.1" font-weight="bold" fill="#3c3c3c" text-anchor="middle" textLength="31.3" lengthAdjust="spacingAndGlyphs">JANEIRO</text>
<path d="M171.40,421.00L176.20,417.50L176.20,275.03L171.40,278.53Z" fill="#0a679e" stroke="#0f2f48" stroke-width="0.75"/>
<path d="M157.50,278.53L162.30,275.03L176.20,275.03L171.40,278.53Z" fill="#157fc2" stroke="#0f2f48" stroke-width="0.75"/>
<rect x="157.50" y="278.53" width="13.90" height="142.47" fill="#02a9ee" stroke="#0f2f48" stroke-width="0.75"/>
<path d="M185.30,421.00L190.10,417.50L190.10,294.91L185.30,298.41Z" fill="#0e9a7a" stroke="#0c3a32" stroke-width="0.75"/>
<path d="M171.40,298.41L176.20,294.91L190.10,294.91L185.30,298.41Z" fill="#1fcaa2" stroke="#0c3a32" stroke-width="0.75"/>
<rect x="171.40" y="298.41" width="13.90" height="122.59" fill="#06ffcc" stroke="#0c3a32" stroke-width="0.75"/>
<path d="M199.20,421.00L204.00,417.50L204.00,399.19L199.20,402.69Z" fill="#a80000" stroke="#4a0a0a" stroke-width="0.75"/>
<path d="M185.30,402.69L190.10,399.19L204.00,399.19L199.20,402.69Z" fill="#d40000" stroke="#4a0a0a" stroke-width="0.75"/>
<rect x="185.30" y="402.69" width="13.90" height="18.31" fill="#ff0000" stroke="#4a0a0a" stroke-width="0.75"/>
<path d="M213.10,421.00L217.90,417.50L217.90,415.93L213.10,419.43Z" fill="#9c7400" stroke="#4a3a0a" stroke-width="0.75"/>
<path d="M199.20,419.43L204.00,415.93L217.90,415.93L213.10,419.43Z" fill="#c89400" stroke="#4a3a0a" stroke-width="0.75"/>
<rect x="199.20" y="419.43" width="13.90" height="1.57" fill="#ffc000" stroke="#4a3a0a" stroke-width="0.75"/>
<text x="181.8" y="436.5" font-size="8.1" font-weight="bold" fill="#3c3c3c" text-anchor="middle" textLength="40.7" lengthAdjust="spacingAndGlyphs">FEVEREIRO</text>
<path d="M247.60,421.00L252.40,417.50L252.40,275.66L247.60,279.16Z" fill="#0a679e" stroke="#0f2f48" stroke-width="0.75"/>
<path d="M233.70,279.16L238.50,275.66L252.40,275.66L247.60,279.16Z" fill="#157fc2" stroke="#0f2f48" stroke-width="0.75"/>
<rect x="233.70" y="279.16" width="13.90" height="141.84" fill="#02a9ee" stroke="#0f2f48" stroke-width="0.75"/>
<path d="M261.50,421.00L266.30,417.50L266.30,290.64L261.50,294.14Z" fill="#0e9a7a" stroke="#0c3a32" stroke-width="0.75"/>
<path d="M247.60,294.14L252.40,290.64L266.30,290.64L261.50,294.14Z" fill="#1fcaa2" stroke="#0c3a32" stroke-width="0.75"/>
<rect x="247.60" y="294.14" width="13.90" height="126.86" fill="#06ffcc" stroke="#0c3a32" stroke-width="0.75"/>
<path d="M275.40,421.00L280.20,417.50L280.20,402.73L275.40,406.23Z" fill="#a80000" stroke="#4a0a0a" stroke-width="0.75"/>
<path d="M261.50,406.23L266.30,402.73L280.20,402.73L275.40,406.23Z" fill="#d40000" stroke="#4a0a0a" stroke-width="0.75"/>
<rect x="261.50" y="406.23" width="13.90" height="14.77" fill="#ff0000" stroke="#4a0a0a" stroke-width="0.75"/>
<path d="M289.30,421.00L294.10,417.50L294.10,417.29L289.30,420.79Z" fill="#9c7400" stroke="#4a3a0a" stroke-width="0.75"/>
<path d="M275.40,420.79L280.20,417.29L294.10,417.29L289.30,420.79Z" fill="#c89400" stroke="#4a3a0a" stroke-width="0.75"/>
<rect x="275.40" y="420.79" width="13.90" height="0.21" fill="#ffc000" stroke="#4a3a0a" stroke-width="0.75"/>
<text x="257.8" y="436.5" font-size="8.1" font-weight="bold" fill="#3c3c3c" text-anchor="middle" textLength="26.6" lengthAdjust="spacingAndGlyphs">MARÇO</text>
<path d="M323.80,421.00L328.60,417.50L328.60,278.22L323.80,281.72Z" fill="#0a679e" stroke="#0f2f48" stroke-width="0.75"/>
<path d="M309.90,281.72L314.70,278.22L328.60,278.22L323.80,281.72Z" fill="#157fc2" stroke="#0f2f48" stroke-width="0.75"/>
<rect x="309.90" y="281.72" width="13.90" height="139.28" fill="#02a9ee" stroke="#0f2f48" stroke-width="0.75"/>
<path d="M337.70,421.00L342.50,417.50L342.50,303.21L337.70,306.71Z" fill="#0e9a7a" stroke="#0c3a32" stroke-width="0.75"/>
<path d="M323.80,306.71L328.60,303.21L342.50,303.21L337.70,306.71Z" fill="#1fcaa2" stroke="#0c3a32" stroke-width="0.75"/>
<rect x="323.80" y="306.71" width="13.90" height="114.29" fill="#06ffcc" stroke="#0c3a32" stroke-width="0.75"/>
<path d="M351.60,421.00L356.40,417.50L356.40,392.64L351.60,396.14Z" fill="#a80000" stroke="#4a0a0a" stroke-width="0.75"/>
<path d="M337.70,396.14L342.50,392.64L356.40,392.64L351.60,396.14Z" fill="#d40000" stroke="#4a0a0a" stroke-width="0.75"/>
<rect x="337.70" y="396.14" width="13.90" height="24.86" fill="#ff0000" stroke="#4a0a0a" stroke-width="0.75"/>
<path d="M365.50,421.00L370.30,417.50L370.30,417.37L365.50,420.87Z" fill="#9c7400" stroke="#4a3a0a" stroke-width="0.75"/>
<path d="M351.60,420.87L356.40,417.37L370.30,417.37L365.50,420.87Z" fill="#c89400" stroke="#4a3a0a" stroke-width="0.75"/>
<rect x="351.60" y="420.87" width="13.90" height="0.13" fill="#ffc000" stroke="#4a3a0a" stroke-width="0.75"/>
<text x="333.8" y="436.5" font-size="8.1" font-weight="bold" fill="#3c3c3c" text-anchor="middle" textLength="21.5" lengthAdjust="spacingAndGlyphs">ABRIL</text>
<path d="M400.00,421.00L404.80,417.50L404.80,281.75L400.00,285.25Z" fill="#0a679e" stroke="#0f2f48" stroke-width="0.75"/>
<path d="M386.10,285.25L390.90,281.75L404.80,281.75L400.00,285.25Z" fill="#157fc2" stroke="#0f2f48" stroke-width="0.75"/>
<rect x="386.10" y="285.25" width="13.90" height="135.75" fill="#02a9ee" stroke="#0f2f48" stroke-width="0.75"/>
<path d="M413.90,421.00L418.70,417.50L418.70,300.71L413.90,304.21Z" fill="#0e9a7a" stroke="#0c3a32" stroke-width="0.75"/>
<path d="M400.00,304.21L404.80,300.71L418.70,300.71L413.90,304.21Z" fill="#1fcaa2" stroke="#0c3a32" stroke-width="0.75"/>
<rect x="400.00" y="304.21" width="13.90" height="116.79" fill="#06ffcc" stroke="#0c3a32" stroke-width="0.75"/>
<path d="M427.80,421.00L432.60,417.50L432.60,398.61L427.80,402.11Z" fill="#a80000" stroke="#4a0a0a" stroke-width="0.75"/>
<path d="M413.90,402.11L418.70,398.61L432.60,398.61L427.80,402.11Z" fill="#d40000" stroke="#4a0a0a" stroke-width="0.75"/>
<rect x="413.90" y="402.11" width="13.90" height="18.89" fill="#ff0000" stroke="#4a0a0a" stroke-width="0.75"/>
<path d="M441.70,421.00L446.50,417.50L446.50,417.43L441.70,420.93Z" fill="#9c7400" stroke="#4a3a0a" stroke-width="0.75"/>
<path d="M427.80,420.93L432.60,417.43L446.50,417.43L441.70,420.93Z" fill="#c89400" stroke="#4a3a0a" stroke-width="0.75"/>
<rect x="427.80" y="420.93" width="13.90" height="0.07" fill="#ffc000" stroke="#4a3a0a" stroke-width="0.75"/>
<text x="409.8" y="436.5" font-size="8.1" font-weight="bold" fill="#3c3c3c" text-anchor="middle" textLength="18.4" lengthAdjust="spacingAndGlyphs">MAIO</text>
<path d="M476.20,421.00L481.00,417.50L481.00,284.40L476.20,287.90Z" fill="#0a679e" stroke="#0f2f48" stroke-width="0.75"/>
<path d="M462.30,287.90L467.10,284.40L481.00,284.40L476.20,287.90Z" fill="#157fc2" stroke="#0f2f48" stroke-width="0.75"/>
<rect x="462.30" y="287.90" width="13.90" height="133.10" fill="#02a9ee" stroke="#0f2f48" stroke-width="0.75"/>
<path d="M490.10,421.00L494.90,417.50L494.90,301.42L490.10,304.92Z" fill="#0e9a7a" stroke="#0c3a32" stroke-width="0.75"/>
<path d="M476.20,304.92L481.00,301.42L494.90,301.42L490.10,304.92Z" fill="#1fcaa2" stroke="#0c3a32" stroke-width="0.75"/>
<rect x="476.20" y="304.92" width="13.90" height="116.08" fill="#06ffcc" stroke="#0c3a32" stroke-width="0.75"/>
<path d="M504.00,421.00L508.80,417.50L508.80,400.54L504.00,404.04Z" fill="#a80000" stroke="#4a0a0a" stroke-width="0.75"/>
<path d="M490.10,404.04L494.90,400.54L508.80,400.54L504.00,404.04Z" fill="#d40000" stroke="#4a0a0a" stroke-width="0.75"/>
<rect x="490.10" y="404.04" width="13.90" height="16.96" fill="#ff0000" stroke="#4a0a0a" stroke-width="0.75"/>
<path d="M517.90,421.00L522.70,417.50L522.70,417.44L517.90,420.94Z" fill="#9c7400" stroke="#4a3a0a" stroke-width="0.75"/>
<path d="M504.00,420.94L508.80,417.44L522.70,417.44L517.90,420.94Z" fill="#c89400" stroke="#4a3a0a" stroke-width="0.75"/>
<rect x="504.00" y="420.94" width="13.90" height="0.06" fill="#ffc000" stroke="#4a3a0a" stroke-width="0.75"/>
<text x="485.9" y="436.5" font-size="8.1" font-weight="bold" fill="#3c3c3c" text-anchor="middle" textLength="24.7" lengthAdjust="spacingAndGlyphs">JUNHO</text>
<path d="M552.40,421.00L557.20,417.50L557.20,290.36L552.40,293.86Z" fill="#0a679e" stroke="#0f2f48" stroke-width="0.75"/>
<path d="M538.50,293.86L543.30,290.36L557.20,290.36L552.40,293.86Z" fill="#157fc2" stroke="#0f2f48" stroke-width="0.75"/>
<rect x="538.50" y="293.86" width="13.90" height="127.14" fill="#02a9ee" stroke="#0f2f48" stroke-width="0.75"/>
<path d="M566.30,421.00L571.10,417.50L571.10,316.14L566.30,319.64Z" fill="#0e9a7a" stroke="#0c3a32" stroke-width="0.75"/>
<path d="M552.40,319.64L557.20,316.14L571.10,316.14L566.30,319.64Z" fill="#1fcaa2" stroke="#0c3a32" stroke-width="0.75"/>
<rect x="552.40" y="319.64" width="13.90" height="101.36" fill="#06ffcc" stroke="#0c3a32" stroke-width="0.75"/>
<path d="M580.20,421.00L585.00,417.50L585.00,392.93L580.20,396.43Z" fill="#a80000" stroke="#4a0a0a" stroke-width="0.75"/>
<path d="M566.30,396.43L571.10,392.93L585.00,392.93L580.20,396.43Z" fill="#d40000" stroke="#4a0a0a" stroke-width="0.75"/>
<rect x="566.30" y="396.43" width="13.90" height="24.57" fill="#ff0000" stroke="#4a0a0a" stroke-width="0.75"/>
<path d="M594.10,421.00L598.90,417.50L598.90,416.29L594.10,419.79Z" fill="#9c7400" stroke="#4a3a0a" stroke-width="0.75"/>
<path d="M580.20,419.79L585.00,416.29L598.90,416.29L594.10,419.79Z" fill="#c89400" stroke="#4a3a0a" stroke-width="0.75"/>
<rect x="580.20" y="419.79" width="13.90" height="1.21" fill="#ffc000" stroke="#4a3a0a" stroke-width="0.75"/>
<text x="561.9" y="436.5" font-size="8.1" font-weight="bold" fill="#3c3c3c" text-anchor="middle" textLength="30.4" lengthAdjust="spacingAndGlyphs">AGOSTO</text>
<path d="M628.60,421.00L633.40,417.50L633.40,291.06L628.60,294.56Z" fill="#0a679e" stroke="#0f2f48" stroke-width="0.75"/>
<path d="M614.70,294.56L619.50,291.06L633.40,291.06L628.60,294.56Z" fill="#157fc2" stroke="#0f2f48" stroke-width="0.75"/>
<rect x="614.70" y="294.56" width="13.90" height="126.44" fill="#02a9ee" stroke="#0f2f48" stroke-width="0.75"/>
<path d="M642.50,421.00L647.30,417.50L647.30,306.88L642.50,310.38Z" fill="#0e9a7a" stroke="#0c3a32" stroke-width="0.75"/>
<path d="M628.60,310.38L633.40,306.88L647.30,306.88L642.50,310.38Z" fill="#1fcaa2" stroke="#0c3a32" stroke-width="0.75"/>
<rect x="628.60" y="310.38" width="13.90" height="110.62" fill="#06ffcc" stroke="#0c3a32" stroke-width="0.75"/>
<path d="M656.40,421.00L661.20,417.50L661.20,401.77L656.40,405.27Z" fill="#a80000" stroke="#4a0a0a" stroke-width="0.75"/>
<path d="M642.50,405.27L647.30,401.77L661.20,401.77L656.40,405.27Z" fill="#d40000" stroke="#4a0a0a" stroke-width="0.75"/>
<rect x="642.50" y="405.27" width="13.90" height="15.73" fill="#ff0000" stroke="#4a0a0a" stroke-width="0.75"/>
<path d="M670.30,421.00L675.10,417.50L675.10,417.41L670.30,420.91Z" fill="#9c7400" stroke="#4a3a0a" stroke-width="0.75"/>
<path d="M656.40,420.91L661.20,417.41L675.10,417.41L670.30,420.91Z" fill="#c89400" stroke="#4a3a0a" stroke-width="0.75"/>
<rect x="656.40" y="420.91" width="13.90" height="0.09" fill="#ffc000" stroke="#4a3a0a" stroke-width="0.75"/>
<text x="637.9" y="436.5" font-size="8.1" font-weight="bold" fill="#3c3c3c" text-anchor="middle" textLength="39.9" lengthAdjust="spacingAndGlyphs">SETEMBRO</text>
<path d="M704.80,421.00L709.60,417.50L709.60,293.06L704.80,296.56Z" fill="#0a679e" stroke="#0f2f48" stroke-width="0.75"/>
<path d="M690.90,296.56L695.70,293.06L709.60,293.06L704.80,296.56Z" fill="#157fc2" stroke="#0f2f48" stroke-width="0.75"/>
<rect x="690.90" y="296.56" width="13.90" height="124.44" fill="#02a9ee" stroke="#0f2f48" stroke-width="0.75"/>
<path d="M718.70,421.00L723.50,417.50L723.50,313.09L718.70,316.59Z" fill="#0e9a7a" stroke="#0c3a32" stroke-width="0.75"/>
<path d="M704.80,316.59L709.60,313.09L723.50,313.09L718.70,316.59Z" fill="#1fcaa2" stroke="#0c3a32" stroke-width="0.75"/>
<rect x="704.80" y="316.59" width="13.90" height="104.41" fill="#06ffcc" stroke="#0c3a32" stroke-width="0.75"/>
<path d="M732.60,421.00L737.40,417.50L737.40,397.52L732.60,401.02Z" fill="#a80000" stroke="#4a0a0a" stroke-width="0.75"/>
<path d="M718.70,401.02L723.50,397.52L737.40,397.52L732.60,401.02Z" fill="#d40000" stroke="#4a0a0a" stroke-width="0.75"/>
<rect x="718.70" y="401.02" width="13.90" height="19.98" fill="#ff0000" stroke="#4a0a0a" stroke-width="0.75"/>
<path d="M746.50,421.00L751.30,417.50L751.30,417.44L746.50,420.94Z" fill="#9c7400" stroke="#4a3a0a" stroke-width="0.75"/>
<path d="M732.60,420.94L737.40,417.44L751.30,417.44L746.50,420.94Z" fill="#c89400" stroke="#4a3a0a" stroke-width="0.75"/>
<rect x="732.60" y="420.94" width="13.90" height="0.06" fill="#ffc000" stroke="#4a3a0a" stroke-width="0.75"/>
<text x="713.9" y="436.5" font-size="8.1" font-weight="bold" fill="#3c3c3c" text-anchor="middle" textLength="35.6" lengthAdjust="spacingAndGlyphs">OUTUBRO</text>
<path d="M781.00,421.00L785.80,417.50L785.80,294.70L781.00,298.20Z" fill="#0a679e" stroke="#0f2f48" stroke-width="0.75"/>
<path d="M767.10,298.20L771.90,294.70L785.80,294.70L781.00,298.20Z" fill="#157fc2" stroke="#0f2f48" stroke-width="0.75"/>
<rect x="767.10" y="298.20" width="13.90" height="122.80" fill="#02a9ee" stroke="#0f2f48" stroke-width="0.75"/>
<path d="M794.90,421.00L799.70,417.50L799.70,311.57L794.90,315.07Z" fill="#0e9a7a" stroke="#0c3a32" stroke-width="0.75"/>
<path d="M781.00,315.07L785.80,311.57L799.70,311.57L794.90,315.07Z" fill="#1fcaa2" stroke="#0c3a32" stroke-width="0.75"/>
<rect x="781.00" y="315.07" width="13.90" height="105.93" fill="#06ffcc" stroke="#0c3a32" stroke-width="0.75"/>
<path d="M808.80,421.00L813.60,417.50L813.60,400.65L808.80,404.15Z" fill="#a80000" stroke="#4a0a0a" stroke-width="0.75"/>
<path d="M794.90,404.15L799.70,400.65L813.60,400.65L808.80,404.15Z" fill="#d40000" stroke="#4a0a0a" stroke-width="0.75"/>
<rect x="794.90" y="404.15" width="13.90" height="16.85" fill="#ff0000" stroke="#4a0a0a" stroke-width="0.75"/>
<path d="M822.70,421.00L827.50,417.50L827.50,417.49L822.70,420.99Z" fill="#9c7400" stroke="#4a3a0a" stroke-width="0.75"/>
<path d="M808.80,420.99L813.60,417.49L827.50,417.49L822.70,420.99Z" fill="#c89400" stroke="#4a3a0a" stroke-width="0.75"/>
<rect x="808.80" y="420.99" width="13.90" height="0.01" fill="#ffc000" stroke="#4a3a0a" stroke-width="0.75"/>
<text x="789.9" y="436.5" font-size="8.1" font-weight="bold" fill="#3c3c3c" text-anchor="middle" textLength="41.5" lengthAdjust="spacingAndGlyphs">NOVEMBRO</text>
<text x="73.7" y="274.9" font-size="9" font-weight="bold" fill="#363636" text-anchor="start" textLength="31.3" lengthAdjust="spacingAndGlyphs">238.351</text>
<path d="M102.9,302.0L104.6,305.2" fill="none" stroke="#b8b8b8" stroke-width="0.8"/>
<text x="87.3" y="300.2" font-size="9" font-weight="bold" fill="#363636" text-anchor="start" textLength="31.3" lengthAdjust="spacingAndGlyphs">194.731</text>
<path d="M117.0,403.2L118.5,406.5" fill="none" stroke="#b8b8b8" stroke-width="0.8"/>
<text x="103.9" y="401.4" font-size="9" font-weight="bold" fill="#363636" text-anchor="start" textLength="26.1" lengthAdjust="spacingAndGlyphs">21.857</text>
<path d="M129.8,403.2L132.3,406.5" fill="none" stroke="#b8b8b8" stroke-width="0.8"/>
<text x="116.7" y="401.4" font-size="9" font-weight="bold" fill="#363636" text-anchor="start" textLength="26.1" lengthAdjust="spacingAndGlyphs">21.696</text>
<path d="M194.4,267.2L189.4,267.2L166.8,276.8" fill="none" stroke="#b8b8b8" stroke-width="0.8"/>
<text x="195.4" y="270.4" font-size="9" font-weight="bold" fill="#363636" text-anchor="start" textLength="31.5" lengthAdjust="spacingAndGlyphs">243.294</text>
<path d="M193.0,288.2L188.0,288.2L180.8,296.7" fill="none" stroke="#b8b8b8" stroke-width="0.8"/>
<text x="194.0" y="291.4" font-size="9" font-weight="bold" fill="#363636" text-anchor="start" textLength="30.9" lengthAdjust="spacingAndGlyphs">209.347</text>
<path d="M210.8,392.0L194.7,400.9" fill="none" stroke="#b8b8b8" stroke-width="0.8"/>
<text x="197.5" y="390.2" font-size="9" font-weight="bold" fill="#363636" text-anchor="start" textLength="26.5" lengthAdjust="spacingAndGlyphs">31.270</text>
<path d="M212.0,404.5L207.0,404.5L208.5,417.7" fill="none" stroke="#b8b8b8" stroke-width="0.8"/>
<text x="213.0" y="407.7" font-size="9" font-weight="bold" fill="#363636" text-anchor="start" textLength="20.8" lengthAdjust="spacingAndGlyphs">2.677</text>
<path d="M280.9,267.0L275.9,267.0L243.0,277.4" fill="none" stroke="#b8b8b8" stroke-width="0.8"/>
<text x="281.9" y="270.2" font-size="9" font-weight="bold" fill="#363636" text-anchor="start" textLength="32.1" lengthAdjust="spacingAndGlyphs">242.216</text>
<path d="M271.0,285.4L266.0,285.4L256.9,292.4" fill="none" stroke="#b8b8b8" stroke-width="0.8"/>
<text x="272.0" y="288.6" font-size="9" font-weight="bold" fill="#363636" text-anchor="start" textLength="32.0" lengthAdjust="spacingAndGlyphs">216.639</text>
<path d="M287.9,395.0L270.8,404.5" fill="none" stroke="#b8b8b8" stroke-width="0.8"/>
<text x="274.8" y="393.2" font-size="9" font-weight="bold" fill="#363636" text-anchor="start" textLength="26.2" lengthAdjust="spacingAndGlyphs">25.226</text>
<path d="M291.5,409.5L284.7,419.0" fill="none" stroke="#b8b8b8" stroke-width="0.8"/>
<text x="284.6" y="407.7" font-size="9" font-weight="bold" fill="#363636" text-anchor="start" textLength="13.7" lengthAdjust="spacingAndGlyphs">351</text>
<path d="M343.4,269.8L338.4,269.8L319.2,280.0" fill="none" stroke="#b8b8b8" stroke-width="0.8"/>
<text x="344.4" y="273.0" font-size="9" font-weight="bold" fill="#363636" text-anchor="start" textLength="31.8" lengthAdjust="spacingAndGlyphs">237.835</text>
<path d="M340.2,293.2L335.2,293.2L333.1,305.0" fill="none" stroke="#b8b8b8" stroke-width="0.8"/>
<text x="341.2" y="296.4" font-size="9" font-weight="bold" fill="#363636" text-anchor="start" textLength="32.1" lengthAdjust="spacingAndGlyphs">195.168</text>
<path d="M356.7,385.8L351.7,385.8L347.1,394.4" fill="none" stroke="#b8b8b8" stroke-width="0.8"/>
<text x="357.7" y="389.0" font-size="9" font-weight="bold" fill="#363636" text-anchor="start" textLength="26.5" lengthAdjust="spacingAndGlyphs">42.453</text>
<path d="M370.3,404.5L365.3,404.5L360.9,419.1" fill="none" stroke="#b8b8b8" stroke-width="0.8"/>
<text x="371.3" y="407.7" font-size="9" font-weight="bold" fill="#363636" text-anchor="start" textLength="12.9" lengthAdjust="spacingAndGlyphs">214</text>
<path d="M426.0,271.5L421.0,271.5L395.4,283.5" fill="none" stroke="#b8b8b8" stroke-width="0.8"/>
<text x="427.0" y="274.7" font-size="9" font-weight="bold" fill="#363636" text-anchor="start" textLength="31.2" lengthAdjust="spacingAndGlyphs">231.816</text>
<path d="M424.0,293.2L419.0,293.2L409.3,302.5" fill="none" stroke="#b8b8b8" stroke-width="0.8"/>
<text x="425.0" y="296.4" font-size="9" font-weight="bold" fill="#363636" text-anchor="start" textLength="30.7" lengthAdjust="spacingAndGlyphs">199.436</text>
<path d="M432.8,388.1L427.8,388.1L423.2,400.4" fill="none" stroke="#b8b8b8" stroke-width="0.8"/>
<text x="433.8" y="391.3" font-size="9" font-weight="bold" fill="#363636" text-anchor="start" textLength="25.0" lengthAdjust="spacingAndGlyphs">32.253</text>
<path d="M442.7,404.9L437.7,404.9L437.1,419.2" fill="none" stroke="#b8b8b8" stroke-width="0.8"/>
<text x="443.7" y="408.1" font-size="9" font-weight="bold" fill="#363636" text-anchor="start" textLength="13.4" lengthAdjust="spacingAndGlyphs">127</text>
<path d="M485.3,277.9L471.6,286.1" fill="none" stroke="#b8b8b8" stroke-width="0.8"/>
<text x="469.3" y="276.1" font-size="9" font-weight="bold" fill="#363636" text-anchor="start" textLength="32.0" lengthAdjust="spacingAndGlyphs">227.290</text>
<path d="M505.4,293.2L500.4,293.2L485.5,303.2" fill="none" stroke="#b8b8b8" stroke-width="0.8"/>
<text x="506.4" y="296.4" font-size="9" font-weight="bold" fill="#363636" text-anchor="start" textLength="31.3" lengthAdjust="spacingAndGlyphs">198.217</text>
<path d="M509.3,390.9L504.3,390.9L499.4,402.3" fill="none" stroke="#b8b8b8" stroke-width="0.8"/>
<text x="510.3" y="394.1" font-size="9" font-weight="bold" fill="#363636" text-anchor="start" textLength="27.4" lengthAdjust="spacingAndGlyphs">28.969</text>
<path d="M522.8,415.4L513.4,419.2" fill="none" stroke="#b8b8b8" stroke-width="0.8"/>
<text x="515.0" y="413.6" font-size="9" font-weight="bold" fill="#363636" text-anchor="start" textLength="15.6" lengthAdjust="spacingAndGlyphs">104</text>
<path d="M550.4,284.5L547.9,292.1" fill="none" stroke="#b8b8b8" stroke-width="0.8"/>
<text x="535.0" y="282.7" font-size="9" font-weight="bold" fill="#363636" text-anchor="start" textLength="30.8" lengthAdjust="spacingAndGlyphs">217.106</text>
<path d="M573.8,308.8L568.8,308.8L561.8,317.9" fill="none" stroke="#b8b8b8" stroke-width="0.8"/>
<text x="574.8" y="312.0" font-size="9" font-weight="bold" fill="#363636" text-anchor="start" textLength="32.0" lengthAdjust="spacingAndGlyphs">173.087</text>
<path d="M583.7,382.6L578.7,382.6L575.6,394.7" fill="none" stroke="#b8b8b8" stroke-width="0.8"/>
<text x="584.7" y="385.8" font-size="9" font-weight="bold" fill="#363636" text-anchor="start" textLength="24.9" lengthAdjust="spacingAndGlyphs">41.954</text>
<path d="M603.6,411.9L589.6,418.0" fill="none" stroke="#b8b8b8" stroke-width="0.8"/>
<text x="592.9" y="410.1" font-size="9" font-weight="bold" fill="#363636" text-anchor="start" textLength="21.5" lengthAdjust="spacingAndGlyphs">2.065</text>
<text x="604.8" y="288.6" font-size="9" font-weight="bold" fill="#363636" text-anchor="start" textLength="32.5" lengthAdjust="spacingAndGlyphs">215.908</text>
<path d="M644.9,301.0L639.9,301.0L637.9,308.6" fill="none" stroke="#b8b8b8" stroke-width="0.8"/>
<text x="645.9" y="304.2" font-size="9" font-weight="bold" fill="#363636" text-anchor="start" textLength="31.2" lengthAdjust="spacingAndGlyphs">188.892</text>
<text x="652.9" y="399.9" font-size="9" font-weight="bold" fill="#363636" text-anchor="start" textLength="25.4" lengthAdjust="spacingAndGlyphs">26.864</text>
<path d="M670.0,410.4L665.0,410.4L665.8,419.2" fill="none" stroke="#b8b8b8" stroke-width="0.8"/>
<text x="671.0" y="413.6" font-size="9" font-weight="bold" fill="#363636" text-anchor="start" textLength="13.1" lengthAdjust="spacingAndGlyphs">152</text>
<path d="M717.4,283.8L700.2,294.8" fill="none" stroke="#b8b8b8" stroke-width="0.8"/>
<text x="701.0" y="281.9" font-size="9" font-weight="bold" fill="#363636" text-anchor="start" textLength="32.8" lengthAdjust="spacingAndGlyphs">212.503</text>
<path d="M723.4,301.0L718.4,301.0L714.1,314.8" fill="none" stroke="#b8b8b8" stroke-width="0.8"/>
<text x="724.4" y="304.2" font-size="9" font-weight="bold" fill="#363636" text-anchor="start" textLength="32.8" lengthAdjust="spacingAndGlyphs">178.288</text>
<path d="M735.0,384.0L730.0,384.0L728.0,399.3" fill="none" stroke="#b8b8b8" stroke-width="0.8"/>
<text x="736.0" y="387.2" font-size="9" font-weight="bold" fill="#363636" text-anchor="start" textLength="24.6" lengthAdjust="spacingAndGlyphs">34.121</text>
<path d="M748.2,415.3L742.0,419.2" fill="none" stroke="#b8b8b8" stroke-width="0.8"/>
<text x="743.8" y="413.5" font-size="9" font-weight="bold" fill="#363636" text-anchor="start" textLength="8.9" lengthAdjust="spacingAndGlyphs">94</text>
<path d="M784.6,291.6L776.5,296.5" fill="none" stroke="#b8b8b8" stroke-width="0.8"/>
<text x="768.0" y="289.8" font-size="9" font-weight="bold" fill="#363636" text-anchor="start" textLength="33.3" lengthAdjust="spacingAndGlyphs">209.692</text>
<path d="M800.3,301.0L795.3,301.0L790.4,313.3" fill="none" stroke="#b8b8b8" stroke-width="0.8"/>
<text x="801.3" y="304.2" font-size="9" font-weight="bold" fill="#363636" text-anchor="start" textLength="32.5" lengthAdjust="spacingAndGlyphs">180.885</text>
<path d="M814.4,393.9L804.2,402.4" fill="none" stroke="#b8b8b8" stroke-width="0.8"/>
<text x="800.0" y="392.1" font-size="9" font-weight="bold" fill="#363636" text-anchor="start" textLength="28.7" lengthAdjust="spacingAndGlyphs">28.782</text>
<path d="M825.7,404.5L820.7,404.5L818.2,419.2" fill="none" stroke="#b8b8b8" stroke-width="0.8"/>
<text x="826.7" y="407.7" font-size="9" font-weight="bold" fill="#363636" text-anchor="start" textLength="9.8" lengthAdjust="spacingAndGlyphs">25</text>
<rect x="844.8" y="286.7" width="50.6" height="123.5" fill="#ffffff"/>
<rect x="895.4" y="286.7" width="51.6" height="123.5" fill="#b2f5df"/>
<rect x="947.0" y="286.7" width="35.5" height="123.5" fill="#fccccc"/>
<rect x="982.5" y="286.7" width="37.0" height="123.5" fill="#ffc000"/>
<line x1="844.8" y1="299.1" x2="1019.5" y2="299.1" stroke="#3a3a3a" stroke-width="1"/>
<line x1="844.8" y1="311.4" x2="1019.5" y2="311.4" stroke="#3a3a3a" stroke-width="1"/>
<line x1="844.8" y1="323.8" x2="1019.5" y2="323.8" stroke="#3a3a3a" stroke-width="1"/>
<line x1="844.8" y1="336.1" x2="1019.5" y2="336.1" stroke="#3a3a3a" stroke-width="1"/>
<line x1="844.8" y1="348.4" x2="1019.5" y2="348.4" stroke="#3a3a3a" stroke-width="1"/>
<line x1="844.8" y1="360.8" x2="1019.5" y2="360.8" stroke="#3a3a3a" stroke-width="1"/>
<line x1="844.8" y1="373.1" x2="1019.5" y2="373.1" stroke="#3a3a3a" stroke-width="1"/>
<line x1="844.8" y1="385.5" x2="1019.5" y2="385.5" stroke="#3a3a3a" stroke-width="1"/>
<line x1="844.8" y1="397.8" x2="1019.5" y2="397.8" stroke="#3a3a3a" stroke-width="1"/>
<line x1="895.4" y1="286.7" x2="895.4" y2="410.2" stroke="#3a3a3a" stroke-width="1"/>
<line x1="947.0" y1="286.7" x2="947.0" y2="410.2" stroke="#3a3a3a" stroke-width="1"/>
<line x1="982.5" y1="286.7" x2="982.5" y2="410.2" stroke="#3a3a3a" stroke-width="1"/>
<rect x="844.8" y="286.7" width="174.7" height="123.5" fill="none" stroke="#1e1e1e" stroke-width="1.4"/>
<text x="870.1" y="295.8" font-size="8.2" font-weight="bold" fill="#353535" text-anchor="middle" textLength="25.1" lengthAdjust="spacingAndGlyphs">jan/23</text>
<text x="921.2" y="295.8" font-size="8.2" font-weight="bold" fill="#353535" text-anchor="middle">81,70%</text>
<text x="964.8" y="295.8" font-size="8.2" font-weight="bold" fill="#353535" text-anchor="middle">9,17%</text>
<text x="1001.0" y="295.8" font-size="8.2" font-weight="bold" fill="#353535" text-anchor="middle">9,10%</text>
<text x="870.1" y="308.2" font-size="8.2" font-weight="bold" fill="#353535" text-anchor="middle" textLength="25.1" lengthAdjust="spacingAndGlyphs">fev/23</text>
<text x="921.2" y="308.2" font-size="8.2" font-weight="bold" fill="#353535" text-anchor="middle">86,05%</text>
<text x="964.8" y="308.2" font-size="8.2" font-weight="bold" fill="#353535" text-anchor="middle">12,85%</text>
<text x="1001.0" y="308.2" font-size="8.2" font-weight="bold" fill="#353535" text-anchor="middle">1,10%</text>
<text x="870.1" y="320.5" font-size="8.2" font-weight="bold" fill="#353535" text-anchor="middle" textLength="28.6" lengthAdjust="spacingAndGlyphs">mar/23</text>
<text x="921.2" y="320.5" font-size="8.2" font-weight="bold" fill="#353535" text-anchor="middle">89,44%</text>
<text x="964.8" y="320.5" font-size="8.2" font-weight="bold" fill="#353535" text-anchor="middle">10,41%</text>
<text x="1001.0" y="320.5" font-size="8.2" font-weight="bold" fill="#353535" text-anchor="middle">0,14%</text>
<text x="870.1" y="332.9" font-size="8.2" font-weight="bold" fill="#353535" text-anchor="middle" textLength="26.1" lengthAdjust="spacingAndGlyphs">abr/23</text>
<text x="921.2" y="332.9" font-size="8.2" font-weight="bold" fill="#353535" text-anchor="middle">82,06%</text>
<text x="964.8" y="332.9" font-size="8.2" font-weight="bold" fill="#353535" text-anchor="middle">17,85%</text>
<text x="1001.0" y="332.9" font-size="8.2" font-weight="bold" fill="#353535" text-anchor="middle">0,09%</text>
<text x="870.1" y="345.2" font-size="8.2" font-weight="bold" fill="#353535" text-anchor="middle" textLength="27.6" lengthAdjust="spacingAndGlyphs">mai/23</text>
<text x="921.2" y="345.2" font-size="8.2" font-weight="bold" fill="#353535" text-anchor="middle">86,03%</text>
<text x="964.8" y="345.2" font-size="8.2" font-weight="bold" fill="#353535" text-anchor="middle">13,91%</text>
<text x="1001.0" y="345.2" font-size="8.2" font-weight="bold" fill="#353535" text-anchor="middle">0,05%</text>
<text x="870.1" y="357.6" font-size="8.2" font-weight="bold" fill="#353535" text-anchor="middle" textLength="25.6" lengthAdjust="spacingAndGlyphs">jun/23</text>
<text x="921.2" y="357.6" font-size="8.2" font-weight="bold" fill="#353535" text-anchor="middle">87,21%</text>
<text x="964.8" y="357.6" font-size="8.2" font-weight="bold" fill="#353535" text-anchor="middle">12,75%</text>
<text x="1001.0" y="357.6" font-size="8.2" font-weight="bold" fill="#353535" text-anchor="middle">0,05%</text>
<text x="870.1" y="369.9" font-size="8.2" font-weight="bold" fill="#353535" text-anchor="middle" textLength="28.1" lengthAdjust="spacingAndGlyphs">ago/23</text>
<text x="921.2" y="369.9" font-size="8.2" font-weight="bold" fill="#353535" text-anchor="middle">79,72%</text>
<text x="964.8" y="369.9" font-size="8.2" font-weight="bold" fill="#353535" text-anchor="middle">19,32%</text>
<text x="1001.0" y="369.9" font-size="8.2" font-weight="bold" fill="#353535" text-anchor="middle">0,95%</text>
<text x="870.1" y="382.3" font-size="8.2" font-weight="bold" fill="#353535" text-anchor="middle" textLength="25.1" lengthAdjust="spacingAndGlyphs">set/23</text>
<text x="921.2" y="382.3" font-size="8.2" font-weight="bold" fill="#353535" text-anchor="middle">87,49%</text>
<text x="964.8" y="382.3" font-size="8.2" font-weight="bold" fill="#353535" text-anchor="middle">12,44%</text>
<text x="1001.0" y="382.3" font-size="8.2" font-weight="bold" fill="#353535" text-anchor="middle">0,07%</text>
<text x="870.1" y="394.6" font-size="8.2" font-weight="bold" fill="#353535" text-anchor="middle" textLength="26.1" lengthAdjust="spacingAndGlyphs">out/23</text>
<text x="921.2" y="394.6" font-size="8.2" font-weight="bold" fill="#353535" text-anchor="middle">83,90%</text>
<text x="964.8" y="394.6" font-size="8.2" font-weight="bold" fill="#353535" text-anchor="middle">16,06%</text>
<text x="1001.0" y="394.6" font-size="8.2" font-weight="bold" fill="#353535" text-anchor="middle">0,04%</text>
<text x="870.1" y="407.0" font-size="8.2" font-weight="bold" fill="#353535" text-anchor="middle" textLength="28.1" lengthAdjust="spacingAndGlyphs">nov/23</text>
<text x="921.2" y="407.0" font-size="8.2" font-weight="bold" fill="#353535" text-anchor="middle">86,26%</text>
<text x="964.8" y="407.0" font-size="8.2" font-weight="bold" fill="#353535" text-anchor="middle">13,73%</text>
<text x="1001.0" y="407.0" font-size="8.2" font-weight="bold" fill="#353535" text-anchor="middle">0,01%</text>
<path d="M68.2,630.4L81.1,621.5L841.3,621.5" fill="none" stroke="#dedede" stroke-width="1.1"/>
<text x="60.2" y="633.0" font-size="7.2" font-weight="bold" fill="#444444" text-anchor="end">0</text>
<path d="M68.2,601.1L81.1,592.2L841.3,592.2" fill="none" stroke="#dedede" stroke-width="1.1"/>
<text x="60.2" y="603.7" font-size="7.2" font-weight="bold" fill="#444444" text-anchor="end" textLength="25.5" lengthAdjust="spacingAndGlyphs">50.000</text>
<path d="M68.2,571.8L81.1,562.9L841.3,562.9" fill="none" stroke="#dedede" stroke-width="1.1"/>
<text x="60.2" y="574.4" font-size="7.2" font-weight="bold" fill="#444444" text-anchor="end" textLength="25.5" lengthAdjust="spacingAndGlyphs">100.000</text>
<path d="M68.2,542.6L81.1,533.7L841.3,533.7" fill="none" stroke="#dedede" stroke-width="1.1"/>
<text x="60.2" y="545.2" font-size="7.2" font-weight="bold" fill="#444444" text-anchor="end" textLength="25.5" lengthAdjust="spacingAndGlyphs">150.000</text>
<path d="M68.2,513.3L81.1,504.4L841.3,504.4" fill="none" stroke="#dedede" stroke-width="1.1"/>
<text x="60.2" y="515.9" font-size="7.2" font-weight="bold" fill="#444444" text-anchor="end" textLength="25.5" lengthAdjust="spacingAndGlyphs">200.000</text>
<path d="M68.2,484.0L81.1,475.1L841.3,475.1" fill="none" stroke="#dedede" stroke-width="1.1"/>
<text x="60.2" y="486.6" font-size="7.2" font-weight="bold" fill="#444444" text-anchor="end" textLength="25.5" lengthAdjust="spacingAndGlyphs">250.000</text>
<path d="M96.00,627.60L100.80,624.10L100.80,484.52L96.00,488.02Z" fill="#0a679e" stroke="#0f2f48" stroke-width="0.75"/>
<path d="M82.10,488.02L86.90,484.52L100.80,484.52L96.00,488.02Z" fill="#157fc2" stroke="#0f2f48" stroke-width="0.75"/>
<rect x="82.10" y="488.02" width="13.90" height="139.58" fill="#02a9ee" stroke="#0f2f48" stroke-width="0.75"/>
<path d="M109.90,627.60L114.70,624.10L114.70,501.93L109.90,505.43Z" fill="#0e9a7a" stroke="#0c3a32" stroke-width="0.75"/>
<path d="M96.00,505.43L100.80,501.93L114.70,501.93L109.90,505.43Z" fill="#1fcaa2" stroke="#0c3a32" stroke-width="0.75"/>
<rect x="96.00" y="505.43" width="13.90" height="122.17" fill="#06ffcc" stroke="#0c3a32" stroke-width="0.75"/>
<path d="M123.80,627.60L128.60,624.10L128.60,608.73L123.80,612.23Z" fill="#a80000" stroke="#4a0a0a" stroke-width="0.75"/>
<path d="M109.90,612.23L114.70,608.73L128.60,608.73L123.80,612.23Z" fill="#d40000" stroke="#4a0a0a" stroke-width="0.75"/>
<rect x="109.90" y="612.23" width="13.90" height="15.37" fill="#ff0000" stroke="#4a0a0a" stroke-width="0.75"/>
<path d="M137.70,627.60L142.50,624.10L142.50,622.14L137.70,625.64Z" fill="#9c7400" stroke="#4a3a0a" stroke-width="0.75"/>
<path d="M123.80,625.64L128.60,622.14L142.50,622.14L137.70,625.64Z" fill="#c89400" stroke="#4a3a0a" stroke-width="0.75"/>
<rect x="123.80" y="625.64" width="13.90" height="1.96" fill="#ffc000" stroke="#4a3a0a" stroke-width="0.75"/>
<text x="105.8" y="644.2" font-size="8.1" font-weight="bold" fill="#3c3c3c" text-anchor="middle" textLength="31.3" lengthAdjust="spacingAndGlyphs">JANEIRO</text>
<path d="M172.15,627.60L176.95,624.10L176.95,482.71L172.15,486.21Z" fill="#0a679e" stroke="#0f2f48" stroke-width="0.75"/>
<path d="M158.25,486.21L163.05,482.71L176.95,482.71L172.15,486.21Z" fill="#157fc2" stroke="#0f2f48" stroke-width="0.75"/>
<rect x="158.25" y="486.21" width="13.90" height="141.39" fill="#02a9ee" stroke="#0f2f48" stroke-width="0.75"/>
<path d="M186.05,627.60L190.85,624.10L190.85,496.39L186.05,499.89Z" fill="#0e9a7a" stroke="#0c3a32" stroke-width="0.75"/>
<path d="M172.15,499.89L176.95,496.39L190.85,496.39L186.05,499.89Z" fill="#1fcaa2" stroke="#0c3a32" stroke-width="0.75"/>
<rect x="172.15" y="499.89" width="13.90" height="127.71" fill="#06ffcc" stroke="#0c3a32" stroke-width="0.75"/>
<path d="M199.95,627.60L204.75,624.10L204.75,611.27L199.95,614.77Z" fill="#a80000" stroke="#4a0a0a" stroke-width="0.75"/>
<path d="M186.05,614.77L190.85,611.27L204.75,611.27L199.95,614.77Z" fill="#d40000" stroke="#4a0a0a" stroke-width="0.75"/>
<rect x="186.05" y="614.77" width="13.90" height="12.83" fill="#ff0000" stroke="#4a0a0a" stroke-width="0.75"/>
<path d="M213.85,627.60L218.65,624.10L218.65,623.25L213.85,626.75Z" fill="#9c7400" stroke="#4a3a0a" stroke-width="0.75"/>
<path d="M199.95,626.75L204.75,623.25L218.65,623.25L213.85,626.75Z" fill="#c89400" stroke="#4a3a0a" stroke-width="0.75"/>
<rect x="199.95" y="626.75" width="13.90" height="0.85" fill="#ffc000" stroke="#4a3a0a" stroke-width="0.75"/>
<text x="181.8" y="644.2" font-size="8.1" font-weight="bold" fill="#3c3c3c" text-anchor="middle" textLength="40.7" lengthAdjust="spacingAndGlyphs">FEVEREIRO</text>
<path d="M248.30,627.60L253.10,624.10L253.10,483.46L248.30,486.96Z" fill="#0a679e" stroke="#0f2f48" stroke-width="0.75"/>
<path d="M234.40,486.96L239.20,483.46L253.10,483.46L248.30,486.96Z" fill="#157fc2" stroke="#0f2f48" stroke-width="0.75"/>
<rect x="234.40" y="486.96" width="13.90" height="140.64" fill="#02a9ee" stroke="#0f2f48" stroke-width="0.75"/>
<path d="M262.20,627.60L267.00,624.10L267.00,491.80L262.20,495.30Z" fill="#0e9a7a" stroke="#0c3a32" stroke-width="0.75"/>
<path d="M248.30,495.30L253.10,491.80L267.00,491.80L262.20,495.30Z" fill="#1fcaa2" stroke="#0c3a32" stroke-width="0.75"/>
<rect x="248.30" y="495.30" width="13.90" height="132.30" fill="#06ffcc" stroke="#0c3a32" stroke-width="0.75"/>
<path d="M276.10,627.60L280.90,624.10L280.90,615.88L276.10,619.38Z" fill="#a80000" stroke="#4a0a0a" stroke-width="0.75"/>
<path d="M262.20,619.38L267.00,615.88L280.90,615.88L276.10,619.38Z" fill="#d40000" stroke="#4a0a0a" stroke-width="0.75"/>
<rect x="262.20" y="619.38" width="13.90" height="8.22" fill="#ff0000" stroke="#4a0a0a" stroke-width="0.75"/>
<path d="M290.00,627.60L294.80,624.10L294.80,623.98L290.00,627.48Z" fill="#9c7400" stroke="#4a3a0a" stroke-width="0.75"/>
<path d="M276.10,627.48L280.90,623.98L294.80,623.98L290.00,627.48Z" fill="#c89400" stroke="#4a3a0a" stroke-width="0.75"/>
<rect x="276.10" y="627.48" width="13.90" height="0.12" fill="#ffc000" stroke="#4a3a0a" stroke-width="0.75"/>
<text x="257.9" y="644.2" font-size="8.1" font-weight="bold" fill="#3c3c3c" text-anchor="middle" textLength="26.6" lengthAdjust="spacingAndGlyphs">MARÇO</text>
<path d="M324.45,627.60L329.25,624.10L329.25,485.39L324.45,488.89Z" fill="#0a679e" stroke="#0f2f48" stroke-width="0.75"/>
<path d="M310.55,488.89L315.35,485.39L329.25,485.39L324.45,488.89Z" fill="#157fc2" stroke="#0f2f48" stroke-width="0.75"/>
<rect x="310.55" y="488.89" width="13.90" height="138.71" fill="#02a9ee" stroke="#0f2f48" stroke-width="0.75"/>
<path d="M338.35,627.60L343.15,624.10L343.15,497.69L338.35,501.19Z" fill="#0e9a7a" stroke="#0c3a32" stroke-width="0.75"/>
<path d="M324.45,501.19L329.25,497.69L343.15,497.69L338.35,501.19Z" fill="#1fcaa2" stroke="#0c3a32" stroke-width="0.75"/>
<rect x="324.45" y="501.19" width="13.90" height="126.41" fill="#06ffcc" stroke="#0c3a32" stroke-width="0.75"/>
<path d="M352.25,627.60L357.05,624.10L357.05,611.89L352.25,615.39Z" fill="#a80000" stroke="#4a0a0a" stroke-width="0.75"/>
<path d="M338.35,615.39L343.15,611.89L357.05,611.89L352.25,615.39Z" fill="#d40000" stroke="#4a0a0a" stroke-width="0.75"/>
<rect x="338.35" y="615.39" width="13.90" height="12.21" fill="#ff0000" stroke="#4a0a0a" stroke-width="0.75"/>
<path d="M366.15,627.60L370.95,624.10L370.95,624.01L366.15,627.51Z" fill="#9c7400" stroke="#4a3a0a" stroke-width="0.75"/>
<path d="M352.25,627.51L357.05,624.01L370.95,624.01L366.15,627.51Z" fill="#c89400" stroke="#4a3a0a" stroke-width="0.75"/>
<rect x="352.25" y="627.51" width="13.90" height="0.09" fill="#ffc000" stroke="#4a3a0a" stroke-width="0.75"/>
<text x="333.9" y="644.2" font-size="8.1" font-weight="bold" fill="#3c3c3c" text-anchor="middle" textLength="21.5" lengthAdjust="spacingAndGlyphs">ABRIL</text>
<path d="M400.60,627.60L405.40,624.10L405.40,487.35L400.60,490.85Z" fill="#0a679e" stroke="#0f2f48" stroke-width="0.75"/>
<path d="M386.70,490.85L391.50,487.35L405.40,487.35L400.60,490.85Z" fill="#157fc2" stroke="#0f2f48" stroke-width="0.75"/>
<rect x="386.70" y="490.85" width="13.90" height="136.75" fill="#02a9ee" stroke="#0f2f48" stroke-width="0.75"/>
<path d="M414.50,627.60L419.30,624.10L419.30,498.46L414.50,501.96Z" fill="#0e9a7a" stroke="#0c3a32" stroke-width="0.75"/>
<path d="M400.60,501.96L405.40,498.46L419.30,498.46L414.50,501.96Z" fill="#1fcaa2" stroke="#0c3a32" stroke-width="0.75"/>
<rect x="400.60" y="501.96" width="13.90" height="125.64" fill="#06ffcc" stroke="#0c3a32" stroke-width="0.75"/>
<path d="M428.40,627.60L433.20,624.10L433.20,613.08L428.40,616.58Z" fill="#a80000" stroke="#4a0a0a" stroke-width="0.75"/>
<path d="M414.50,616.58L419.30,613.08L433.20,613.08L428.40,616.58Z" fill="#d40000" stroke="#4a0a0a" stroke-width="0.75"/>
<rect x="414.50" y="616.58" width="13.90" height="11.02" fill="#ff0000" stroke="#4a0a0a" stroke-width="0.75"/>
<path d="M442.30,627.60L447.10,624.10L447.10,624.01L442.30,627.51Z" fill="#9c7400" stroke="#4a3a0a" stroke-width="0.75"/>
<path d="M428.40,627.51L433.20,624.01L447.10,624.01L442.30,627.51Z" fill="#c89400" stroke="#4a3a0a" stroke-width="0.75"/>
<rect x="428.40" y="627.51" width="13.90" height="0.09" fill="#ffc000" stroke="#4a3a0a" stroke-width="0.75"/>
<text x="410.0" y="644.2" font-size="8.1" font-weight="bold" fill="#3c3c3c" text-anchor="middle" textLength="18.4" lengthAdjust="spacingAndGlyphs">MAIO</text>
<path d="M476.75,627.60L481.55,624.10L481.55,490.38L476.75,493.88Z" fill="#0a679e" stroke="#0f2f48" stroke-width="0.75"/>
<path d="M462.85,493.88L467.65,490.38L481.55,490.38L476.75,493.88Z" fill="#157fc2" stroke="#0f2f48" stroke-width="0.75"/>
<rect x="462.85" y="493.88" width="13.90" height="133.72" fill="#02a9ee" stroke="#0f2f48" stroke-width="0.75"/>
<path d="M490.65,627.60L495.45,624.10L495.45,500.79L490.65,504.29Z" fill="#0e9a7a" stroke="#0c3a32" stroke-width="0.75"/>
<path d="M476.75,504.29L481.55,500.79L495.45,500.79L490.65,504.29Z" fill="#1fcaa2" stroke="#0c3a32" stroke-width="0.75"/>
<rect x="476.75" y="504.29" width="13.90" height="123.31" fill="#06ffcc" stroke="#0c3a32" stroke-width="0.75"/>
<path d="M504.55,627.60L509.35,624.10L509.35,613.74L504.55,617.24Z" fill="#a80000" stroke="#4a0a0a" stroke-width="0.75"/>
<path d="M490.65,617.24L495.45,613.74L509.35,613.74L504.55,617.24Z" fill="#d40000" stroke="#4a0a0a" stroke-width="0.75"/>
<rect x="490.65" y="617.24" width="13.90" height="10.36" fill="#ff0000" stroke="#4a0a0a" stroke-width="0.75"/>
<path d="M518.45,627.60L523.25,624.10L523.25,624.05L518.45,627.55Z" fill="#9c7400" stroke="#4a3a0a" stroke-width="0.75"/>
<path d="M504.55,627.55L509.35,624.05L523.25,624.05L518.45,627.55Z" fill="#c89400" stroke="#4a3a0a" stroke-width="0.75"/>
<rect x="504.55" y="627.55" width="13.90" height="0.05" fill="#ffc000" stroke="#4a3a0a" stroke-width="0.75"/>
<text x="486.1" y="644.2" font-size="8.1" font-weight="bold" fill="#3c3c3c" text-anchor="middle" textLength="24.7" lengthAdjust="spacingAndGlyphs">JUNHO</text>
<path d="M552.90,627.60L557.70,624.10L557.70,493.04L552.90,496.54Z" fill="#0a679e" stroke="#0f2f48" stroke-width="0.75"/>
<path d="M539.00,496.54L543.80,493.04L557.70,493.04L552.90,496.54Z" fill="#157fc2" stroke="#0f2f48" stroke-width="0.75"/>
<rect x="539.00" y="496.54" width="13.90" height="131.06" fill="#02a9ee" stroke="#0f2f48" stroke-width="0.75"/>
<path d="M566.80,627.60L571.60,624.10L571.60,503.22L566.80,506.72Z" fill="#0e9a7a" stroke="#0c3a32" stroke-width="0.75"/>
<path d="M552.90,506.72L557.70,503.22L571.60,503.22L566.80,506.72Z" fill="#1fcaa2" stroke="#0c3a32" stroke-width="0.75"/>
<rect x="552.90" y="506.72" width="13.90" height="120.88" fill="#06ffcc" stroke="#0c3a32" stroke-width="0.75"/>
<path d="M580.70,627.60L585.50,624.10L585.50,614.19L580.70,617.69Z" fill="#a80000" stroke="#4a0a0a" stroke-width="0.75"/>
<path d="M566.80,617.69L571.60,614.19L585.50,614.19L580.70,617.69Z" fill="#d40000" stroke="#4a0a0a" stroke-width="0.75"/>
<rect x="566.80" y="617.69" width="13.90" height="9.91" fill="#ff0000" stroke="#4a0a0a" stroke-width="0.75"/>
<path d="M594.60,627.60L599.40,624.10L599.40,623.83L594.60,627.33Z" fill="#9c7400" stroke="#4a3a0a" stroke-width="0.75"/>
<path d="M580.70,627.33L585.50,623.83L599.40,623.83L594.60,627.33Z" fill="#c89400" stroke="#4a3a0a" stroke-width="0.75"/>
<rect x="580.70" y="627.33" width="13.90" height="0.27" fill="#ffc000" stroke="#4a3a0a" stroke-width="0.75"/>
<text x="562.1" y="644.2" font-size="8.1" font-weight="bold" fill="#3c3c3c" text-anchor="middle" textLength="30.4" lengthAdjust="spacingAndGlyphs">AGOSTO</text>
<path d="M629.05,627.60L633.85,624.10L633.85,493.58L629.05,497.08Z" fill="#0a679e" stroke="#0f2f48" stroke-width="0.75"/>
<path d="M615.15,497.08L619.95,493.58L633.85,493.58L629.05,497.08Z" fill="#157fc2" stroke="#0f2f48" stroke-width="0.75"/>
<rect x="615.15" y="497.08" width="13.90" height="130.52" fill="#02a9ee" stroke="#0f2f48" stroke-width="0.75"/>
<path d="M642.95,627.60L647.75,624.10L647.75,500.51L642.95,504.01Z" fill="#0e9a7a" stroke="#0c3a32" stroke-width="0.75"/>
<path d="M629.05,504.01L633.85,500.51L647.75,500.51L642.95,504.01Z" fill="#1fcaa2" stroke="#0c3a32" stroke-width="0.75"/>
<rect x="629.05" y="504.01" width="13.90" height="123.59" fill="#06ffcc" stroke="#0c3a32" stroke-width="0.75"/>
<path d="M656.85,627.60L661.65,624.10L661.65,617.24L656.85,620.74Z" fill="#a80000" stroke="#4a0a0a" stroke-width="0.75"/>
<path d="M642.95,620.74L647.75,617.24L661.65,617.24L656.85,620.74Z" fill="#d40000" stroke="#4a0a0a" stroke-width="0.75"/>
<rect x="642.95" y="620.74" width="13.90" height="6.86" fill="#ff0000" stroke="#4a0a0a" stroke-width="0.75"/>
<path d="M670.75,627.60L675.55,624.10L675.55,624.03L670.75,627.53Z" fill="#9c7400" stroke="#4a3a0a" stroke-width="0.75"/>
<path d="M656.85,627.53L661.65,624.03L675.55,624.03L670.75,627.53Z" fill="#c89400" stroke="#4a3a0a" stroke-width="0.75"/>
<rect x="656.85" y="627.53" width="13.90" height="0.07" fill="#ffc000" stroke="#4a3a0a" stroke-width="0.75"/>
<text x="638.2" y="644.2" font-size="8.1" font-weight="bold" fill="#3c3c3c" text-anchor="middle" textLength="39.9" lengthAdjust="spacingAndGlyphs">SETEMBRO</text>
<path d="M705.20,627.60L710.00,624.10L710.00,495.62L705.20,499.12Z" fill="#0a679e" stroke="#0f2f48" stroke-width="0.75"/>
<path d="M691.30,499.12L696.10,495.62L710.00,495.62L705.20,499.12Z" fill="#157fc2" stroke="#0f2f48" stroke-width="0.75"/>
<rect x="691.30" y="499.12" width="13.90" height="128.48" fill="#02a9ee" stroke="#0f2f48" stroke-width="0.75"/>
<path d="M719.10,627.60L723.90,624.10L723.90,506.02L719.10,509.52Z" fill="#0e9a7a" stroke="#0c3a32" stroke-width="0.75"/>
<path d="M705.20,509.52L710.00,506.02L723.90,506.02L719.10,509.52Z" fill="#1fcaa2" stroke="#0c3a32" stroke-width="0.75"/>
<rect x="705.20" y="509.52" width="13.90" height="118.08" fill="#06ffcc" stroke="#0c3a32" stroke-width="0.75"/>
<path d="M733.00,627.60L737.80,624.10L737.80,613.75L733.00,617.25Z" fill="#a80000" stroke="#4a0a0a" stroke-width="0.75"/>
<path d="M719.10,617.25L723.90,613.75L737.80,613.75L733.00,617.25Z" fill="#d40000" stroke="#4a0a0a" stroke-width="0.75"/>
<rect x="719.10" y="617.25" width="13.90" height="10.35" fill="#ff0000" stroke="#4a0a0a" stroke-width="0.75"/>
<path d="M746.90,627.60L751.70,624.10L751.70,624.05L746.90,627.55Z" fill="#9c7400" stroke="#4a3a0a" stroke-width="0.75"/>
<path d="M733.00,627.55L737.80,624.05L751.70,624.05L746.90,627.55Z" fill="#c89400" stroke="#4a3a0a" stroke-width="0.75"/>
<rect x="733.00" y="627.55" width="13.90" height="0.05" fill="#ffc000" stroke="#4a3a0a" stroke-width="0.75"/>
<text x="714.2" y="644.2" font-size="8.1" font-weight="bold" fill="#3c3c3c" text-anchor="middle" textLength="35.6" lengthAdjust="spacingAndGlyphs">OUTUBRO</text>
<path d="M781.35,627.60L786.15,624.10L786.15,497.02L781.35,500.52Z" fill="#0a679e" stroke="#0f2f48" stroke-width="0.75"/>
<path d="M767.45,500.52L772.25,497.02L786.15,497.02L781.35,500.52Z" fill="#157fc2" stroke="#0f2f48" stroke-width="0.75"/>
<rect x="767.45" y="500.52" width="13.90" height="127.08" fill="#02a9ee" stroke="#0f2f48" stroke-width="0.75"/>
<path d="M795.25,627.60L800.05,624.10L800.05,505.73L795.25,509.23Z" fill="#0e9a7a" stroke="#0c3a32" stroke-width="0.75"/>
<path d="M781.35,509.23L786.15,505.73L800.05,505.73L795.25,509.23Z" fill="#1fcaa2" stroke="#0c3a32" stroke-width="0.75"/>
<rect x="781.35" y="509.23" width="13.90" height="118.37" fill="#06ffcc" stroke="#0c3a32" stroke-width="0.75"/>
<path d="M809.15,627.60L813.95,624.10L813.95,616.05L809.15,619.55Z" fill="#a80000" stroke="#4a0a0a" stroke-width="0.75"/>
<path d="M795.25,619.55L800.05,616.05L813.95,616.05L809.15,619.55Z" fill="#d40000" stroke="#4a0a0a" stroke-width="0.75"/>
<rect x="795.25" y="619.55" width="13.90" height="8.05" fill="#ff0000" stroke="#4a0a0a" stroke-width="0.75"/>
<path d="M823.05,627.60L827.85,624.10L827.85,624.03L823.05,627.53Z" fill="#9c7400" stroke="#4a3a0a" stroke-width="0.75"/>
<path d="M809.15,627.53L813.95,624.03L827.85,624.03L823.05,627.53Z" fill="#c89400" stroke="#4a3a0a" stroke-width="0.75"/>
<rect x="809.15" y="627.53" width="13.90" height="0.07" fill="#ffc000" stroke="#4a3a0a" stroke-width="0.75"/>
<text x="790.3" y="644.2" font-size="8.1" font-weight="bold" fill="#3c3c3c" text-anchor="middle" textLength="41.5" lengthAdjust="spacingAndGlyphs">NOVEMBRO</text>
<path d="M97.5,472.0L91.5,486.3" fill="none" stroke="#b8b8b8" stroke-width="0.8"/>
<text x="82.3" y="470.2" font-size="9" font-weight="bold" fill="#363636" text-anchor="start" textLength="30.4" lengthAdjust="spacingAndGlyphs">238.358</text>
<text x="101.0" y="499.5" font-size="9" font-weight="bold" fill="#363636" text-anchor="start" textLength="32.4" lengthAdjust="spacingAndGlyphs">208.632</text>
<text x="103.0" y="605.8" font-size="9" font-weight="bold" fill="#363636" text-anchor="start" textLength="26.5" lengthAdjust="spacingAndGlyphs">26.248</text>
<text x="126.4" y="619.5" font-size="9" font-weight="bold" fill="#363636" text-anchor="start" textLength="22.6" lengthAdjust="spacingAndGlyphs">3.340</text>
<path d="M186.6,470.0L167.6,484.5" fill="none" stroke="#b8b8b8" stroke-width="0.8"/>
<text x="170.5" y="468.2" font-size="9" font-weight="bold" fill="#363636" text-anchor="start" textLength="32.1" lengthAdjust="spacingAndGlyphs">241.445</text>
<path d="M193.0,489.3L188.0,489.3L181.5,498.1" fill="none" stroke="#b8b8b8" stroke-width="0.8"/>
<text x="194.0" y="492.5" font-size="9" font-weight="bold" fill="#363636" text-anchor="start" textLength="32.0" lengthAdjust="spacingAndGlyphs">218.087</text>
<path d="M210.9,603.7L195.4,613.0" fill="none" stroke="#b8b8b8" stroke-width="0.8"/>
<text x="197.9" y="601.9" font-size="9" font-weight="bold" fill="#363636" text-anchor="start" textLength="26.1" lengthAdjust="spacingAndGlyphs">21.909</text>
<text x="211.2" y="620.6" font-size="9" font-weight="bold" fill="#363636" text-anchor="start" textLength="20.7" lengthAdjust="spacingAndGlyphs">1.449</text>
<path d="M248.5,465.9L243.5,465.9L243.8,485.2" fill="none" stroke="#b8b8b8" stroke-width="0.8"/>
<text x="249.5" y="469.1" font-size="9" font-weight="bold" fill="#363636" text-anchor="start" textLength="31.2" lengthAdjust="spacingAndGlyphs">240.162</text>
<path d="M271.0,486.6L266.0,486.6L257.6,493.6" fill="none" stroke="#b8b8b8" stroke-width="0.8"/>
<text x="272.0" y="489.8" font-size="9" font-weight="bold" fill="#363636" text-anchor="start" textLength="32.0" lengthAdjust="spacingAndGlyphs">225.914</text>
<path d="M281.7,604.5L276.7,604.5L271.5,617.6" fill="none" stroke="#b8b8b8" stroke-width="0.8"/>
<text x="282.7" y="607.7" font-size="9" font-weight="bold" fill="#363636" text-anchor="start" textLength="26.1" lengthAdjust="spacingAndGlyphs">14.037</text>
<path d="M289.5,615.5L284.5,615.5L285.4,625.7" fill="none" stroke="#b8b8b8" stroke-width="0.8"/>
<text x="290.5" y="618.7" font-size="9" font-weight="bold" fill="#363636" text-anchor="start" textLength="13.6" lengthAdjust="spacingAndGlyphs">211</text>
<path d="M325.8,467.0L320.8,467.0L319.9,487.1" fill="none" stroke="#b8b8b8" stroke-width="0.8"/>
<text x="326.8" y="470.2" font-size="9" font-weight="bold" fill="#363636" text-anchor="start" textLength="31.2" lengthAdjust="spacingAndGlyphs">236.865</text>
<path d="M340.2,487.3L335.2,487.3L333.8,499.4" fill="none" stroke="#b8b8b8" stroke-width="0.8"/>
<text x="341.2" y="490.5" font-size="9" font-weight="bold" fill="#363636" text-anchor="start" textLength="32.4" lengthAdjust="spacingAndGlyphs">215.860</text>
<path d="M364.1,603.7L347.7,613.6" fill="none" stroke="#b8b8b8" stroke-width="0.8"/>
<text x="351.0" y="601.9" font-size="9" font-weight="bold" fill="#363636" text-anchor="start" textLength="26.2" lengthAdjust="spacingAndGlyphs">20.853</text>
<path d="M372.5,618.5L361.6,625.8" fill="none" stroke="#b8b8b8" stroke-width="0.8"/>
<text x="365.5" y="616.7" font-size="9" font-weight="bold" fill="#363636" text-anchor="start" textLength="14.0" lengthAdjust="spacingAndGlyphs">152</text>
<path d="M402.4,469.5L396.1,489.1" fill="none" stroke="#b8b8b8" stroke-width="0.8"/>
<text x="386.2" y="467.7" font-size="9" font-weight="bold" fill="#363636" text-anchor="start" textLength="32.4" lengthAdjust="spacingAndGlyphs">233.521</text>
<path d="M424.2,490.0L419.2,490.0L409.9,500.2" fill="none" stroke="#b8b8b8" stroke-width="0.8"/>
<text x="425.2" y="493.2" font-size="9" font-weight="bold" fill="#363636" text-anchor="start" textLength="32.5" lengthAdjust="spacingAndGlyphs">214.541</text>
<path d="M432.8,600.6L427.8,600.6L423.9,614.8" fill="none" stroke="#b8b8b8" stroke-width="0.8"/>
<text x="433.8" y="603.8" font-size="9" font-weight="bold" fill="#363636" text-anchor="start" textLength="26.6" lengthAdjust="spacingAndGlyphs">18.826</text>
<path d="M443.8,611.6L438.8,611.6L437.8,625.8" fill="none" stroke="#b8b8b8" stroke-width="0.8"/>
<text x="444.8" y="614.8" font-size="9" font-weight="bold" fill="#363636" text-anchor="start" textLength="13.6" lengthAdjust="spacingAndGlyphs">154</text>
<path d="M483.3,470.9L472.2,492.1" fill="none" stroke="#b8b8b8" stroke-width="0.8"/>
<text x="468.0" y="469.1" font-size="9" font-weight="bold" fill="#363636" text-anchor="start" textLength="30.6" lengthAdjust="spacingAndGlyphs">228.343</text>
<path d="M493.7,492.0L488.7,492.0L486.1,502.5" fill="none" stroke="#b8b8b8" stroke-width="0.8"/>
<text x="494.7" y="495.2" font-size="9" font-weight="bold" fill="#363636" text-anchor="start" textLength="32.0" lengthAdjust="spacingAndGlyphs">210.567</text>
<path d="M511.3,604.5L506.3,604.5L500.0,615.5" fill="none" stroke="#b8b8b8" stroke-width="0.8"/>
<text x="512.3" y="607.7" font-size="9" font-weight="bold" fill="#363636" text-anchor="start" textLength="25.4" lengthAdjust="spacingAndGlyphs">17.697</text>
<path d="M519.0,617.4L514.0,617.4L513.9,625.8" fill="none" stroke="#b8b8b8" stroke-width="0.8"/>
<text x="520.0" y="620.6" font-size="9" font-weight="bold" fill="#363636" text-anchor="start" textLength="9.0" lengthAdjust="spacingAndGlyphs">79</text>
<path d="M556.0,472.8L548.4,494.8" fill="none" stroke="#b8b8b8" stroke-width="0.8"/>
<text x="540.4" y="471.0" font-size="9" font-weight="bold" fill="#363636" text-anchor="start" textLength="31.2" lengthAdjust="spacingAndGlyphs">223.809</text>
<path d="M575.0,496.0L570.0,496.0L562.2,505.0" fill="none" stroke="#b8b8b8" stroke-width="0.8"/>
<text x="576.0" y="499.2" font-size="9" font-weight="bold" fill="#363636" text-anchor="start" textLength="32.0" lengthAdjust="spacingAndGlyphs">206.424</text>
<path d="M581.6,603.8L576.6,603.8L576.1,615.9" fill="none" stroke="#b8b8b8" stroke-width="0.8"/>
<text x="582.6" y="607.0" font-size="9" font-weight="bold" fill="#363636" text-anchor="start" textLength="26.1" lengthAdjust="spacingAndGlyphs">16.926</text>
<path d="M595.2,614.3L590.2,614.3L590.1,625.6" fill="none" stroke="#b8b8b8" stroke-width="0.8"/>
<text x="596.2" y="617.5" font-size="9" font-weight="bold" fill="#363636" text-anchor="start" textLength="14.5" lengthAdjust="spacingAndGlyphs">459</text>
<path d="M642.2,471.6L624.5,495.3" fill="none" stroke="#b8b8b8" stroke-width="0.8"/>
<text x="626.7" y="469.8" font-size="9" font-weight="bold" fill="#363636" text-anchor="start" textLength="30.9" lengthAdjust="spacingAndGlyphs">222.879</text>
<path d="M650.0,500.2L645.0,500.2L638.4,502.3" fill="none" stroke="#b8b8b8" stroke-width="0.8"/>
<text x="651.0" y="503.4" font-size="9" font-weight="bold" fill="#363636" text-anchor="start" textLength="32.0" lengthAdjust="spacingAndGlyphs">211.047</text>
<path d="M666.9,614.2L652.3,619.0" fill="none" stroke="#b8b8b8" stroke-width="0.8"/>
<text x="654.8" y="612.4" font-size="9" font-weight="bold" fill="#363636" text-anchor="start" textLength="24.2" lengthAdjust="spacingAndGlyphs">11.710</text>
<path d="M669.5,618.2L664.5,618.2L666.2,625.8" fill="none" stroke="#b8b8b8" stroke-width="0.8"/>
<text x="670.5" y="621.4" font-size="9" font-weight="bold" fill="#363636" text-anchor="start" textLength="14.5" lengthAdjust="spacingAndGlyphs">122</text>
<path d="M711.1,472.8L700.7,497.4" fill="none" stroke="#b8b8b8" stroke-width="0.8"/>
<text x="695.9" y="471.0" font-size="9" font-weight="bold" fill="#363636" text-anchor="start" textLength="30.4" lengthAdjust="spacingAndGlyphs">219.397</text>
<path d="M724.2,495.2L719.2,495.2L714.6,507.8" fill="none" stroke="#b8b8b8" stroke-width="0.8"/>
<text x="725.2" y="498.4" font-size="9" font-weight="bold" fill="#363636" text-anchor="start" textLength="32.4" lengthAdjust="spacingAndGlyphs">201.643</text>
<path d="M734.7,599.5L729.7,599.5L728.5,615.5" fill="none" stroke="#b8b8b8" stroke-width="0.8"/>
<text x="735.7" y="602.7" font-size="9" font-weight="bold" fill="#363636" text-anchor="start" textLength="25.8" lengthAdjust="spacingAndGlyphs">17.668</text>
<path d="M748.9,622.4L742.4,625.8" fill="none" stroke="#b8b8b8" stroke-width="0.8"/>
<text x="744.0" y="620.6" font-size="9" font-weight="bold" fill="#363636" text-anchor="start" textLength="9.7" lengthAdjust="spacingAndGlyphs">86</text>
<path d="M782.2,472.8L776.8,498.8" fill="none" stroke="#b8b8b8" stroke-width="0.8"/>
<text x="767.0" y="471.0" font-size="9" font-weight="bold" fill="#363636" text-anchor="start" textLength="30.4" lengthAdjust="spacingAndGlyphs">217.008</text>
<path d="M800.3,495.2L795.3,495.2L790.7,507.5" fill="none" stroke="#b8b8b8" stroke-width="0.8"/>
<text x="801.3" y="498.4" font-size="9" font-weight="bold" fill="#363636" text-anchor="start" textLength="32.1" lengthAdjust="spacingAndGlyphs">202.138</text>
<path d="M820.8,609.6L804.6,617.8" fill="none" stroke="#b8b8b8" stroke-width="0.8"/>
<text x="808.5" y="607.8" font-size="9" font-weight="bold" fill="#363636" text-anchor="start" textLength="24.5" lengthAdjust="spacingAndGlyphs">13.742</text>
<path d="M825.0,612.0L820.0,612.0L818.5,625.8" fill="none" stroke="#b8b8b8" stroke-width="0.8"/>
<text x="826.0" y="615.2" font-size="9" font-weight="bold" fill="#363636" text-anchor="start" textLength="12.9" lengthAdjust="spacingAndGlyphs">128</text>
<rect x="844.6" y="489.8" width="49.8" height="124.7" fill="#ffffff"/>
<rect x="894.4" y="489.8" width="52.1" height="124.7" fill="#b2f5df"/>
<rect x="946.5" y="489.8" width="36.2" height="124.7" fill="#fccccc"/>
<rect x="982.7" y="489.8" width="37.1" height="124.7" fill="#ffc000"/>
<line x1="844.6" y1="502.3" x2="1019.8" y2="502.3" stroke="#3a3a3a" stroke-width="1"/>
<line x1="844.6" y1="514.7" x2="1019.8" y2="514.7" stroke="#3a3a3a" stroke-width="1"/>
<line x1="844.6" y1="527.2" x2="1019.8" y2="527.2" stroke="#3a3a3a" stroke-width="1"/>
<line x1="844.6" y1="539.7" x2="1019.8" y2="539.7" stroke="#3a3a3a" stroke-width="1"/>
<line x1="844.6" y1="552.1" x2="1019.8" y2="552.1" stroke="#3a3a3a" stroke-width="1"/>
<line x1="844.6" y1="564.6" x2="1019.8" y2="564.6" stroke="#3a3a3a" stroke-width="1"/>
<line x1="844.6" y1="577.1" x2="1019.8" y2="577.1" stroke="#3a3a3a" stroke-width="1"/>
<line x1="844.6" y1="589.6" x2="1019.8" y2="589.6" stroke="#3a3a3a" stroke-width="1"/>
<line x1="844.6" y1="602.0" x2="1019.8" y2="602.0" stroke="#3a3a3a" stroke-width="1"/>
<line x1="894.4" y1="489.8" x2="894.4" y2="614.5" stroke="#3a3a3a" stroke-width="1"/>
<line x1="946.5" y1="489.8" x2="946.5" y2="614.5" stroke="#3a3a3a" stroke-width="1"/>
<line x1="982.7" y1="489.8" x2="982.7" y2="614.5" stroke="#3a3a3a" stroke-width="1"/>
<rect x="844.6" y="489.8" width="175.2" height="124.7" fill="none" stroke="#1e1e1e" stroke-width="1.4"/>
<text x="869.5" y="499.0" font-size="8.2" font-weight="bold" fill="#353535" text-anchor="middle" textLength="25.1" lengthAdjust="spacingAndGlyphs">jan/24</text>
<text x="920.5" y="499.0" font-size="8.2" font-weight="bold" fill="#353535" text-anchor="middle">87,53%</text>
<text x="964.6" y="499.0" font-size="8.2" font-weight="bold" fill="#353535" text-anchor="middle">11,01%</text>
<text x="1001.2" y="499.0" font-size="8.2" font-weight="bold" fill="#353535" text-anchor="middle">1,40%</text>
<text x="869.5" y="511.5" font-size="8.2" font-weight="bold" fill="#353535" text-anchor="middle" textLength="25.1" lengthAdjust="spacingAndGlyphs">fev/24</text>
<text x="920.5" y="511.5" font-size="8.2" font-weight="bold" fill="#353535" text-anchor="middle">90,33%</text>
<text x="964.6" y="511.5" font-size="8.2" font-weight="bold" fill="#353535" text-anchor="middle">9,07%</text>
<text x="1001.2" y="511.5" font-size="8.2" font-weight="bold" fill="#353535" text-anchor="middle">0,60%</text>
<text x="869.5" y="523.9" font-size="8.2" font-weight="bold" fill="#353535" text-anchor="middle" textLength="28.6" lengthAdjust="spacingAndGlyphs">mar/24</text>
<text x="920.5" y="523.9" font-size="8.2" font-weight="bold" fill="#353535" text-anchor="middle">94,07%</text>
<text x="964.6" y="523.9" font-size="8.2" font-weight="bold" fill="#353535" text-anchor="middle">5,84%</text>
<text x="1001.2" y="523.9" font-size="8.2" font-weight="bold" fill="#353535" text-anchor="middle">0,09%</text>
<text x="869.5" y="536.4" font-size="8.2" font-weight="bold" fill="#353535" text-anchor="middle" textLength="26.1" lengthAdjust="spacingAndGlyphs">abr/24</text>
<text x="920.5" y="536.4" font-size="8.2" font-weight="bold" fill="#353535" text-anchor="middle">91,13%</text>
<text x="964.6" y="536.4" font-size="8.2" font-weight="bold" fill="#353535" text-anchor="middle">8,80%</text>
<text x="1001.2" y="536.4" font-size="8.2" font-weight="bold" fill="#353535" text-anchor="middle">0,06%</text>
<text x="869.5" y="548.9" font-size="8.2" font-weight="bold" fill="#353535" text-anchor="middle" textLength="27.6" lengthAdjust="spacingAndGlyphs">mai/24</text>
<text x="920.5" y="548.9" font-size="8.2" font-weight="bold" fill="#353535" text-anchor="middle">91,87%</text>
<text x="964.6" y="548.9" font-size="8.2" font-weight="bold" fill="#353535" text-anchor="middle">8,06%</text>
<text x="1001.2" y="548.9" font-size="8.2" font-weight="bold" fill="#353535" text-anchor="middle">0,07%</text>
<text x="869.5" y="561.3" font-size="8.2" font-weight="bold" fill="#353535" text-anchor="middle" textLength="25.6" lengthAdjust="spacingAndGlyphs">jun/24</text>
<text x="920.5" y="561.3" font-size="8.2" font-weight="bold" fill="#353535" text-anchor="middle">92,22%</text>
<text x="964.6" y="561.3" font-size="8.2" font-weight="bold" fill="#353535" text-anchor="middle">7,75%</text>
<text x="1001.2" y="561.3" font-size="8.2" font-weight="bold" fill="#353535" text-anchor="middle">0,03%</text>
<text x="869.5" y="573.8" font-size="8.2" font-weight="bold" fill="#353535" text-anchor="middle" textLength="28.1" lengthAdjust="spacingAndGlyphs">ago/24</text>
<text x="920.5" y="573.8" font-size="8.2" font-weight="bold" fill="#353535" text-anchor="middle">92,23%</text>
<text x="964.6" y="573.8" font-size="8.2" font-weight="bold" fill="#353535" text-anchor="middle">7,56%</text>
<text x="1001.2" y="573.8" font-size="8.2" font-weight="bold" fill="#353535" text-anchor="middle">0,21%</text>
<text x="869.5" y="586.3" font-size="8.2" font-weight="bold" fill="#353535" text-anchor="middle" textLength="25.1" lengthAdjust="spacingAndGlyphs">set/24</text>
<text x="920.5" y="586.3" font-size="8.2" font-weight="bold" fill="#353535" text-anchor="middle">94,69%</text>
<text x="964.6" y="586.3" font-size="8.2" font-weight="bold" fill="#353535" text-anchor="middle">5,25%</text>
<text x="1001.2" y="586.3" font-size="8.2" font-weight="bold" fill="#353535" text-anchor="middle">0,05%</text>
<text x="869.5" y="598.7" font-size="8.2" font-weight="bold" fill="#353535" text-anchor="middle" textLength="26.1" lengthAdjust="spacingAndGlyphs">out/24</text>
<text x="920.5" y="598.7" font-size="8.2" font-weight="bold" fill="#353535" text-anchor="middle">91,91%</text>
<text x="964.6" y="598.7" font-size="8.2" font-weight="bold" fill="#353535" text-anchor="middle">8,05%</text>
<text x="1001.2" y="598.7" font-size="8.2" font-weight="bold" fill="#353535" text-anchor="middle">0,04%</text>
<text x="869.5" y="611.2" font-size="8.2" font-weight="bold" fill="#353535" text-anchor="middle" textLength="28.1" lengthAdjust="spacingAndGlyphs">nov/24</text>
<text x="920.5" y="611.2" font-size="8.2" font-weight="bold" fill="#353535" text-anchor="middle">93,15%</text>
<text x="964.6" y="611.2" font-size="8.2" font-weight="bold" fill="#353535" text-anchor="middle">6,33%</text>
<text x="1001.2" y="611.2" font-size="8.2" font-weight="bold" fill="#353535" text-anchor="middle">0,06%</text>
<rect x="310.3" y="658.3" width="5.6" height="5.3" fill="#02a9ee" stroke="#2a2a2a" stroke-width="0.6"/>
<text x="319.0" y="664.1" font-size="8.7" font-weight="bold" fill="#333" text-anchor="start" textLength="23.2" lengthAdjust="spacingAndGlyphs">TOTAL</text>
<rect x="355.7" y="658.3" width="5.6" height="5.3" fill="#06ffcc" stroke="#2a2a2a" stroke-width="0.6"/>
<text x="363.0" y="664.1" font-size="8.7" font-weight="bold" fill="#333" text-anchor="start" textLength="47.0" lengthAdjust="spacingAndGlyphs">FREQUENTE</text>
<rect x="422.6" y="658.3" width="5.6" height="5.3" fill="#ff0000" stroke="#2a2a2a" stroke-width="0.6"/>
<text x="430.0" y="664.1" font-size="8.7" font-weight="bold" fill="#333" text-anchor="start" textLength="55.0" lengthAdjust="spacingAndGlyphs">INFREQUENTE</text>
<rect x="498.7" y="658.3" width="5.6" height="5.3" fill="#ffc000" stroke="#2a2a2a" stroke-width="0.6"/>
<text x="506.0" y="664.1" font-size="8.7" font-weight="bold" fill="#333" text-anchor="start" textLength="68.0" lengthAdjust="spacingAndGlyphs">NÃO INFORMADA</text>
<path d="M70.0,936.7L83.1,927.9L841.0,927.9" fill="none" stroke="#dedede" stroke-width="1.1"/>
<text x="63.0" y="939.3" font-size="7.2" font-weight="bold" fill="#444444" text-anchor="end">0</text>
<path d="M70.0,907.4L83.1,898.6L841.0,898.6" fill="none" stroke="#dedede" stroke-width="1.1"/>
<text x="63.0" y="910.0" font-size="7.2" font-weight="bold" fill="#444444" text-anchor="end" textLength="25.5" lengthAdjust="spacingAndGlyphs">50.000</text>
<path d="M70.0,878.1L83.1,869.3L841.0,869.3" fill="none" stroke="#dedede" stroke-width="1.1"/>
<text x="63.0" y="880.7" font-size="7.2" font-weight="bold" fill="#444444" text-anchor="end" textLength="25.5" lengthAdjust="spacingAndGlyphs">100.000</text>
<path d="M70.0,848.9L83.1,840.1L841.0,840.1" fill="none" stroke="#dedede" stroke-width="1.1"/>
<text x="63.0" y="851.5" font-size="7.2" font-weight="bold" fill="#444444" text-anchor="end" textLength="25.5" lengthAdjust="spacingAndGlyphs">150.000</text>
<path d="M70.0,819.6L83.1,810.8L841.0,810.8" fill="none" stroke="#dedede" stroke-width="1.1"/>
<text x="63.0" y="822.2" font-size="7.2" font-weight="bold" fill="#444444" text-anchor="end" textLength="25.5" lengthAdjust="spacingAndGlyphs">200.000</text>
<path d="M70.0,790.3L83.1,781.5L841.0,781.5" fill="none" stroke="#dedede" stroke-width="1.1"/>
<text x="63.0" y="792.9" font-size="7.2" font-weight="bold" fill="#444444" text-anchor="end" textLength="25.5" lengthAdjust="spacingAndGlyphs">250.000</text>
<path d="M97.95,933.80L102.75,930.30L102.75,792.04L97.95,795.54Z" fill="#0a679e" stroke="#0f2f48" stroke-width="0.75"/>
<path d="M84.10,795.54L88.90,792.04L102.75,792.04L97.95,795.54Z" fill="#157fc2" stroke="#0f2f48" stroke-width="0.75"/>
<rect x="84.10" y="795.54" width="13.85" height="138.26" fill="#02a9ee" stroke="#0f2f48" stroke-width="0.75"/>
<path d="M111.80,933.80L116.60,930.30L116.60,802.22L111.80,805.72Z" fill="#0e9a7a" stroke="#0c3a32" stroke-width="0.75"/>
<path d="M97.95,805.72L102.75,802.22L116.60,802.22L111.80,805.72Z" fill="#1fcaa2" stroke="#0c3a32" stroke-width="0.75"/>
<rect x="97.95" y="805.72" width="13.85" height="128.08" fill="#06ffcc" stroke="#0c3a32" stroke-width="0.75"/>
<path d="M125.65,933.80L130.45,930.30L130.45,921.60L125.65,925.10Z" fill="#a80000" stroke="#4a0a0a" stroke-width="0.75"/>
<path d="M111.80,925.10L116.60,921.60L130.45,921.60L125.65,925.10Z" fill="#d40000" stroke="#4a0a0a" stroke-width="0.75"/>
<rect x="111.80" y="925.10" width="13.85" height="8.70" fill="#ff0000" stroke="#4a0a0a" stroke-width="0.75"/>
<path d="M139.50,933.80L144.30,930.30L144.30,928.78L139.50,932.28Z" fill="#9c7400" stroke="#4a3a0a" stroke-width="0.75"/>
<path d="M125.65,932.28L130.45,928.78L144.30,928.78L139.50,932.28Z" fill="#c89400" stroke="#4a3a0a" stroke-width="0.75"/>
<rect x="125.65" y="932.28" width="13.85" height="1.52" fill="#ffc000" stroke="#4a3a0a" stroke-width="0.75"/>
<text x="108.2" y="949.7" font-size="8.1" font-weight="bold" fill="#3c3c3c" text-anchor="middle" textLength="31.3" lengthAdjust="spacingAndGlyphs">JANEIRO</text>
<path d="M173.95,933.80L178.75,930.30L178.75,788.60L173.95,792.10Z" fill="#0a679e" stroke="#0f2f48" stroke-width="0.75"/>
<path d="M160.10,792.10L164.90,788.60L178.75,788.60L173.95,792.10Z" fill="#157fc2" stroke="#0f2f48" stroke-width="0.75"/>
<rect x="160.10" y="792.10" width="13.85" height="141.70" fill="#02a9ee" stroke="#0f2f48" stroke-width="0.75"/>
<path d="M187.80,933.80L192.60,930.30L192.60,796.57L187.80,800.07Z" fill="#0e9a7a" stroke="#0c3a32" stroke-width="0.75"/>
<path d="M173.95,800.07L178.75,796.57L192.60,796.57L187.80,800.07Z" fill="#1fcaa2" stroke="#0c3a32" stroke-width="0.75"/>
<rect x="173.95" y="800.07" width="13.85" height="133.73" fill="#06ffcc" stroke="#0c3a32" stroke-width="0.75"/>
<path d="M201.65,933.80L206.45,930.30L206.45,923.00L201.65,926.50Z" fill="#a80000" stroke="#4a0a0a" stroke-width="0.75"/>
<path d="M187.80,926.50L192.60,923.00L206.45,923.00L201.65,926.50Z" fill="#d40000" stroke="#4a0a0a" stroke-width="0.75"/>
<rect x="187.80" y="926.50" width="13.85" height="7.30" fill="#ff0000" stroke="#4a0a0a" stroke-width="0.75"/>
<path d="M215.50,933.80L220.30,930.30L220.30,929.63L215.50,933.13Z" fill="#9c7400" stroke="#4a3a0a" stroke-width="0.75"/>
<path d="M201.65,933.13L206.45,929.63L220.30,929.63L215.50,933.13Z" fill="#c89400" stroke="#4a3a0a" stroke-width="0.75"/>
<rect x="201.65" y="933.13" width="13.85" height="0.67" fill="#ffc000" stroke="#4a3a0a" stroke-width="0.75"/>
<text x="184.1" y="949.7" font-size="8.1" font-weight="bold" fill="#3c3c3c" text-anchor="middle" textLength="40.7" lengthAdjust="spacingAndGlyphs">FEVEREIRO</text>
<path d="M249.95,933.80L254.75,930.30L254.75,788.94L249.95,792.44Z" fill="#0a679e" stroke="#0f2f48" stroke-width="0.75"/>
<path d="M236.10,792.44L240.90,788.94L254.75,788.94L249.95,792.44Z" fill="#157fc2" stroke="#0f2f48" stroke-width="0.75"/>
<rect x="236.10" y="792.44" width="13.85" height="141.36" fill="#02a9ee" stroke="#0f2f48" stroke-width="0.75"/>
<path d="M263.80,933.80L268.60,930.30L268.60,797.89L263.80,801.39Z" fill="#0e9a7a" stroke="#0c3a32" stroke-width="0.75"/>
<path d="M249.95,801.39L254.75,797.89L268.60,797.89L263.80,801.39Z" fill="#1fcaa2" stroke="#0c3a32" stroke-width="0.75"/>
<rect x="249.95" y="801.39" width="13.85" height="132.41" fill="#06ffcc" stroke="#0c3a32" stroke-width="0.75"/>
<path d="M277.65,933.80L282.45,930.30L282.45,921.56L277.65,925.06Z" fill="#a80000" stroke="#4a0a0a" stroke-width="0.75"/>
<path d="M263.80,925.06L268.60,921.56L282.45,921.56L277.65,925.06Z" fill="#d40000" stroke="#4a0a0a" stroke-width="0.75"/>
<rect x="263.80" y="925.06" width="13.85" height="8.74" fill="#ff0000" stroke="#4a0a0a" stroke-width="0.75"/>
<path d="M291.50,933.80L296.30,930.30L296.30,930.09L291.50,933.59Z" fill="#9c7400" stroke="#4a3a0a" stroke-width="0.75"/>
<path d="M277.65,933.59L282.45,930.09L296.30,930.09L291.50,933.59Z" fill="#c89400" stroke="#4a3a0a" stroke-width="0.75"/>
<rect x="277.65" y="933.59" width="13.85" height="0.21" fill="#ffc000" stroke="#4a3a0a" stroke-width="0.75"/>
<text x="260.0" y="949.7" font-size="8.1" font-weight="bold" fill="#3c3c3c" text-anchor="middle" textLength="26.6" lengthAdjust="spacingAndGlyphs">MARÇO</text>
<path d="M325.95,933.80L330.75,930.30L330.75,790.70L325.95,794.20Z" fill="#0a679e" stroke="#0f2f48" stroke-width="0.75"/>
<path d="M312.10,794.20L316.90,790.70L330.75,790.70L325.95,794.20Z" fill="#157fc2" stroke="#0f2f48" stroke-width="0.75"/>
<rect x="312.10" y="794.20" width="13.85" height="139.60" fill="#02a9ee" stroke="#0f2f48" stroke-width="0.75"/>
<path d="M339.80,933.80L344.60,930.30L344.60,801.89L339.80,805.39Z" fill="#0e9a7a" stroke="#0c3a32" stroke-width="0.75"/>
<path d="M325.95,805.39L330.75,801.89L344.60,801.89L339.80,805.39Z" fill="#1fcaa2" stroke="#0c3a32" stroke-width="0.75"/>
<rect x="325.95" y="805.39" width="13.85" height="128.41" fill="#06ffcc" stroke="#0c3a32" stroke-width="0.75"/>
<path d="M353.65,933.80L358.45,930.30L358.45,919.26L353.65,922.76Z" fill="#a80000" stroke="#4a0a0a" stroke-width="0.75"/>
<path d="M339.80,922.76L344.60,919.26L358.45,919.26L353.65,922.76Z" fill="#d40000" stroke="#4a0a0a" stroke-width="0.75"/>
<rect x="339.80" y="922.76" width="13.85" height="11.04" fill="#ff0000" stroke="#4a0a0a" stroke-width="0.75"/>
<path d="M367.50,933.80L372.30,930.30L372.30,930.15L367.50,933.65Z" fill="#9c7400" stroke="#4a3a0a" stroke-width="0.75"/>
<path d="M353.65,933.65L358.45,930.15L372.30,930.15L367.50,933.65Z" fill="#c89400" stroke="#4a3a0a" stroke-width="0.75"/>
<rect x="353.65" y="933.65" width="13.85" height="0.15" fill="#ffc000" stroke="#4a3a0a" stroke-width="0.75"/>
<text x="336.0" y="949.7" font-size="8.1" font-weight="bold" fill="#3c3c3c" text-anchor="middle" textLength="21.5" lengthAdjust="spacingAndGlyphs">ABRIL</text>
<path d="M401.95,933.80L406.75,930.30L406.75,794.05L401.95,797.55Z" fill="#0a679e" stroke="#0f2f48" stroke-width="0.75"/>
<path d="M388.10,797.55L392.90,794.05L406.75,794.05L401.95,797.55Z" fill="#157fc2" stroke="#0f2f48" stroke-width="0.75"/>
<rect x="388.10" y="797.55" width="13.85" height="136.25" fill="#02a9ee" stroke="#0f2f48" stroke-width="0.75"/>
<path d="M415.80,933.80L420.60,930.30L420.60,805.31L415.80,808.81Z" fill="#0e9a7a" stroke="#0c3a32" stroke-width="0.75"/>
<path d="M401.95,808.81L406.75,805.31L420.60,805.31L415.80,808.81Z" fill="#1fcaa2" stroke="#0c3a32" stroke-width="0.75"/>
<rect x="401.95" y="808.81" width="13.85" height="124.99" fill="#06ffcc" stroke="#0c3a32" stroke-width="0.75"/>
<path d="M429.65,933.80L434.45,930.30L434.45,919.10L429.65,922.60Z" fill="#a80000" stroke="#4a0a0a" stroke-width="0.75"/>
<path d="M415.80,922.60L420.60,919.10L434.45,919.10L429.65,922.60Z" fill="#d40000" stroke="#4a0a0a" stroke-width="0.75"/>
<rect x="415.80" y="922.60" width="13.85" height="11.20" fill="#ff0000" stroke="#4a0a0a" stroke-width="0.75"/>
<path d="M443.50,933.80L448.30,930.30L448.30,930.23L443.50,933.73Z" fill="#9c7400" stroke="#4a3a0a" stroke-width="0.75"/>
<path d="M429.65,933.73L434.45,930.23L448.30,930.23L443.50,933.73Z" fill="#c89400" stroke="#4a3a0a" stroke-width="0.75"/>
<rect x="429.65" y="933.73" width="13.85" height="0.07" fill="#ffc000" stroke="#4a3a0a" stroke-width="0.75"/>
<text x="411.9" y="949.7" font-size="8.1" font-weight="bold" fill="#3c3c3c" text-anchor="middle" textLength="18.4" lengthAdjust="spacingAndGlyphs">MAIO</text>
<path d="M477.95,933.80L482.75,930.30L482.75,795.79L477.95,799.29Z" fill="#0a679e" stroke="#0f2f48" stroke-width="0.75"/>
<path d="M464.10,799.29L468.90,795.79L482.75,795.79L477.95,799.29Z" fill="#157fc2" stroke="#0f2f48" stroke-width="0.75"/>
<rect x="464.10" y="799.29" width="13.85" height="134.51" fill="#02a9ee" stroke="#0f2f48" stroke-width="0.75"/>
<path d="M491.80,933.80L496.60,930.30L496.60,802.86L491.80,806.36Z" fill="#0e9a7a" stroke="#0c3a32" stroke-width="0.75"/>
<path d="M477.95,806.36L482.75,802.86L496.60,802.86L491.80,806.36Z" fill="#1fcaa2" stroke="#0c3a32" stroke-width="0.75"/>
<rect x="477.95" y="806.36" width="13.85" height="127.44" fill="#06ffcc" stroke="#0c3a32" stroke-width="0.75"/>
<path d="M505.65,933.80L510.45,930.30L510.45,923.24L505.65,926.74Z" fill="#a80000" stroke="#4a0a0a" stroke-width="0.75"/>
<path d="M491.80,926.74L496.60,923.24L510.45,923.24L505.65,926.74Z" fill="#d40000" stroke="#4a0a0a" stroke-width="0.75"/>
<rect x="491.80" y="926.74" width="13.85" height="7.06" fill="#ff0000" stroke="#4a0a0a" stroke-width="0.75"/>
<path d="M519.50,933.80L524.30,930.30L524.30,930.29L519.50,933.79Z" fill="#9c7400" stroke="#4a3a0a" stroke-width="0.75"/>
<path d="M505.65,933.79L510.45,930.29L524.30,930.29L519.50,933.79Z" fill="#c89400" stroke="#4a3a0a" stroke-width="0.75"/>
<rect x="505.65" y="933.79" width="13.85" height="0.01" fill="#ffc000" stroke="#4a3a0a" stroke-width="0.75"/>
<text x="487.8" y="949.7" font-size="8.1" font-weight="bold" fill="#3c3c3c" text-anchor="middle" textLength="24.7" lengthAdjust="spacingAndGlyphs">JUNHO</text>
<path d="M553.95,933.80L558.75,930.30L558.75,797.26L553.95,800.76Z" fill="#0a679e" stroke="#0f2f48" stroke-width="0.75"/>
<path d="M540.10,800.76L544.90,797.26L558.75,797.26L553.95,800.76Z" fill="#157fc2" stroke="#0f2f48" stroke-width="0.75"/>
<rect x="540.10" y="800.76" width="13.85" height="133.04" fill="#02a9ee" stroke="#0f2f48" stroke-width="0.75"/>
<path d="M567.80,933.80L572.60,930.30L572.60,810.20L567.80,813.70Z" fill="#0e9a7a" stroke="#0c3a32" stroke-width="0.75"/>
<path d="M553.95,813.70L558.75,810.20L572.60,810.20L567.80,813.70Z" fill="#1fcaa2" stroke="#0c3a32" stroke-width="0.75"/>
<rect x="553.95" y="813.70" width="13.85" height="120.10" fill="#06ffcc" stroke="#0c3a32" stroke-width="0.75"/>
<path d="M581.65,933.80L586.45,930.30L586.45,917.85L581.65,921.35Z" fill="#a80000" stroke="#4a0a0a" stroke-width="0.75"/>
<path d="M567.80,921.35L572.60,917.85L586.45,917.85L581.65,921.35Z" fill="#d40000" stroke="#4a0a0a" stroke-width="0.75"/>
<rect x="567.80" y="921.35" width="13.85" height="12.45" fill="#ff0000" stroke="#4a0a0a" stroke-width="0.75"/>
<path d="M595.50,933.80L600.30,930.30L600.30,929.80L595.50,933.30Z" fill="#9c7400" stroke="#4a3a0a" stroke-width="0.75"/>
<path d="M581.65,933.30L586.45,929.80L600.30,929.80L595.50,933.30Z" fill="#c89400" stroke="#4a3a0a" stroke-width="0.75"/>
<rect x="581.65" y="933.30" width="13.85" height="0.50" fill="#ffc000" stroke="#4a3a0a" stroke-width="0.75"/>
<text x="563.7" y="949.7" font-size="8.1" font-weight="bold" fill="#3c3c3c" text-anchor="middle" textLength="30.4" lengthAdjust="spacingAndGlyphs">AGOSTO</text>
<path d="M629.95,933.80L634.75,930.30L634.75,797.87L629.95,801.37Z" fill="#0a679e" stroke="#0f2f48" stroke-width="0.75"/>
<path d="M616.10,801.37L620.90,797.87L634.75,797.87L629.95,801.37Z" fill="#157fc2" stroke="#0f2f48" stroke-width="0.75"/>
<rect x="616.10" y="801.37" width="13.85" height="132.43" fill="#02a9ee" stroke="#0f2f48" stroke-width="0.75"/>
<path d="M643.80,933.80L648.60,930.30L648.60,806.44L643.80,809.94Z" fill="#0e9a7a" stroke="#0c3a32" stroke-width="0.75"/>
<path d="M629.95,809.94L634.75,806.44L648.60,806.44L643.80,809.94Z" fill="#1fcaa2" stroke="#0c3a32" stroke-width="0.75"/>
<rect x="629.95" y="809.94" width="13.85" height="123.86" fill="#06ffcc" stroke="#0c3a32" stroke-width="0.75"/>
<path d="M657.65,933.80L662.45,930.30L662.45,921.77L657.65,925.27Z" fill="#a80000" stroke="#4a0a0a" stroke-width="0.75"/>
<path d="M643.80,925.27L648.60,921.77L662.45,921.77L657.65,925.27Z" fill="#d40000" stroke="#4a0a0a" stroke-width="0.75"/>
<rect x="643.80" y="925.27" width="13.85" height="8.53" fill="#ff0000" stroke="#4a0a0a" stroke-width="0.75"/>
<path d="M671.50,933.80L676.30,930.30L676.30,930.26L671.50,933.76Z" fill="#9c7400" stroke="#4a3a0a" stroke-width="0.75"/>
<path d="M657.65,933.76L662.45,930.26L676.30,930.26L671.50,933.76Z" fill="#c89400" stroke="#4a3a0a" stroke-width="0.75"/>
<rect x="657.65" y="933.76" width="13.85" height="0.04" fill="#ffc000" stroke="#4a3a0a" stroke-width="0.75"/>
<text x="639.6" y="949.7" font-size="8.1" font-weight="bold" fill="#3c3c3c" text-anchor="middle" textLength="39.9" lengthAdjust="spacingAndGlyphs">SETEMBRO</text>
<path d="M705.95,933.80L710.75,930.30L710.75,799.69L705.95,803.19Z" fill="#0a679e" stroke="#0f2f48" stroke-width="0.75"/>
<path d="M692.10,803.19L696.90,799.69L710.75,799.69L705.95,803.19Z" fill="#157fc2" stroke="#0f2f48" stroke-width="0.75"/>
<rect x="692.10" y="803.19" width="13.85" height="130.61" fill="#02a9ee" stroke="#0f2f48" stroke-width="0.75"/>
<path d="M719.80,933.80L724.60,930.30L724.60,811.12L719.80,814.62Z" fill="#0e9a7a" stroke="#0c3a32" stroke-width="0.75"/>
<path d="M705.95,814.62L710.75,811.12L724.60,811.12L719.80,814.62Z" fill="#1fcaa2" stroke="#0c3a32" stroke-width="0.75"/>
<rect x="705.95" y="814.62" width="13.85" height="119.18" fill="#06ffcc" stroke="#0c3a32" stroke-width="0.75"/>
<path d="M733.65,933.80L738.45,930.30L738.45,918.93L733.65,922.43Z" fill="#a80000" stroke="#4a0a0a" stroke-width="0.75"/>
<path d="M719.80,922.43L724.60,918.93L738.45,918.93L733.65,922.43Z" fill="#d40000" stroke="#4a0a0a" stroke-width="0.75"/>
<rect x="719.80" y="922.43" width="13.85" height="11.37" fill="#ff0000" stroke="#4a0a0a" stroke-width="0.75"/>
<path d="M747.50,933.80L752.30,930.30L752.30,930.24L747.50,933.74Z" fill="#9c7400" stroke="#4a3a0a" stroke-width="0.75"/>
<path d="M733.65,933.74L738.45,930.24L752.30,930.24L747.50,933.74Z" fill="#c89400" stroke="#4a3a0a" stroke-width="0.75"/>
<rect x="733.65" y="933.74" width="13.85" height="0.06" fill="#ffc000" stroke="#4a3a0a" stroke-width="0.75"/>
<text x="715.6" y="949.7" font-size="8.1" font-weight="bold" fill="#3c3c3c" text-anchor="middle" textLength="35.6" lengthAdjust="spacingAndGlyphs">OUTUBRO</text>
<text x="791.5" y="949.7" font-size="8.1" font-weight="bold" fill="#3c3c3c" text-anchor="middle" textLength="41.5" lengthAdjust="spacingAndGlyphs">NOVEMBRO</text>
<path d="M95.6,771.1L93.4,793.8" fill="none" stroke="#b8b8b8" stroke-width="0.8"/>
<text x="80.8" y="769.3" font-size="9" font-weight="bold" fill="#363636" text-anchor="start" textLength="29.6" lengthAdjust="spacingAndGlyphs">236.092</text>
<path d="M125.6,798.2L107.3,804.0" fill="none" stroke="#b8b8b8" stroke-width="0.8"/>
<text x="110.0" y="796.4" font-size="9" font-weight="bold" fill="#363636" text-anchor="start" textLength="31.2" lengthAdjust="spacingAndGlyphs">218.710</text>
<path d="M131.3,910.3L121.1,923.4" fill="none" stroke="#b8b8b8" stroke-width="0.8"/>
<text x="118.6" y="908.5" font-size="9" font-weight="bold" fill="#363636" text-anchor="start" textLength="25.4" lengthAdjust="spacingAndGlyphs">14.853</text>
<text x="132.3" y="926.1" font-size="9" font-weight="bold" fill="#363636" text-anchor="start" textLength="20.7" lengthAdjust="spacingAndGlyphs">2.592</text>
<path d="M197.7,767.8L192.7,767.8L169.4,790.3" fill="none" stroke="#b8b8b8" stroke-width="0.8"/>
<text x="198.7" y="771.0" font-size="9" font-weight="bold" fill="#363636" text-anchor="start" textLength="30.1" lengthAdjust="spacingAndGlyphs">241.978</text>
<path d="M195.0,789.3L190.0,789.3L183.3,798.3" fill="none" stroke="#b8b8b8" stroke-width="0.8"/>
<text x="196.0" y="792.5" font-size="9" font-weight="bold" fill="#363636" text-anchor="start" textLength="32.0" lengthAdjust="spacingAndGlyphs">228.365</text>
<path d="M213.3,915.4L197.1,924.8" fill="none" stroke="#b8b8b8" stroke-width="0.8"/>
<text x="200.6" y="913.6" font-size="9" font-weight="bold" fill="#363636" text-anchor="start" textLength="25.4" lengthAdjust="spacingAndGlyphs">12.462</text>
<path d="M223.7,928.3L211.0,931.4" fill="none" stroke="#b8b8b8" stroke-width="0.8"/>
<text x="213.5" y="926.5" font-size="9" font-weight="bold" fill="#363636" text-anchor="start" textLength="20.3" lengthAdjust="spacingAndGlyphs">1.151</text>
<path d="M283.6,767.8L278.6,767.8L245.4,790.7" fill="none" stroke="#b8b8b8" stroke-width="0.8"/>
<text x="284.6" y="771.0" font-size="9" font-weight="bold" fill="#363636" text-anchor="start" textLength="31.3" lengthAdjust="spacingAndGlyphs">241.397</text>
<path d="M273.0,793.2L268.0,793.2L259.3,799.6" fill="none" stroke="#b8b8b8" stroke-width="0.8"/>
<text x="274.0" y="796.4" font-size="9" font-weight="bold" fill="#363636" text-anchor="start" textLength="32.0" lengthAdjust="spacingAndGlyphs">226.117</text>
<path d="M283.6,909.6L278.6,909.6L273.1,923.3" fill="none" stroke="#b8b8b8" stroke-width="0.8"/>
<text x="284.6" y="912.8" font-size="9" font-weight="bold" fill="#363636" text-anchor="start" textLength="25.4" lengthAdjust="spacingAndGlyphs">14.920</text>
<path d="M291.4,921.0L286.4,921.0L287.0,931.8" fill="none" stroke="#b8b8b8" stroke-width="0.8"/>
<text x="292.4" y="924.2" font-size="9" font-weight="bold" fill="#363636" text-anchor="start" textLength="14.5" lengthAdjust="spacingAndGlyphs">360</text>
<path d="M347.3,771.7L342.3,771.7L321.4,792.5" fill="none" stroke="#b8b8b8" stroke-width="0.8"/>
<text x="348.3" y="774.9" font-size="9" font-weight="bold" fill="#363636" text-anchor="start" textLength="30.1" lengthAdjust="spacingAndGlyphs">238.380</text>
<path d="M343.4,792.0L338.4,792.0L335.3,803.6" fill="none" stroke="#b8b8b8" stroke-width="0.8"/>
<text x="344.4" y="795.2" font-size="9" font-weight="bold" fill="#363636" text-anchor="start" textLength="31.2" lengthAdjust="spacingAndGlyphs">219.275</text>
<path d="M353.0,905.3L348.0,905.3L349.1,921.0" fill="none" stroke="#b8b8b8" stroke-width="0.8"/>
<text x="354.0" y="908.5" font-size="9" font-weight="bold" fill="#363636" text-anchor="start" textLength="25.1" lengthAdjust="spacingAndGlyphs">18.856</text>
<path d="M366.1,919.7L361.1,919.7L363.0,931.9" fill="none" stroke="#b8b8b8" stroke-width="0.8"/>
<text x="367.1" y="922.9" font-size="9" font-weight="bold" fill="#363636" text-anchor="start" textLength="14.1" lengthAdjust="spacingAndGlyphs">249</text>
<path d="M424.2,774.5L419.2,774.5L397.4,795.8" fill="none" stroke="#b8b8b8" stroke-width="0.8"/>
<text x="425.2" y="777.7" font-size="9" font-weight="bold" fill="#363636" text-anchor="start" textLength="31.3" lengthAdjust="spacingAndGlyphs">232.674</text>
<path d="M425.4,797.9L420.4,797.9L411.3,807.1" fill="none" stroke="#b8b8b8" stroke-width="0.8"/>
<text x="426.4" y="801.1" font-size="9" font-weight="bold" fill="#363636" text-anchor="start" textLength="32.0" lengthAdjust="spacingAndGlyphs">213.433</text>
<path d="M434.8,905.3L429.8,905.3L425.1,920.9" fill="none" stroke="#b8b8b8" stroke-width="0.8"/>
<text x="435.8" y="908.5" font-size="9" font-weight="bold" fill="#363636" text-anchor="start" textLength="24.6" lengthAdjust="spacingAndGlyphs">19.125</text>
<path d="M445.7,920.2L440.7,920.2L439.0,932.0" fill="none" stroke="#b8b8b8" stroke-width="0.8"/>
<text x="446.7" y="923.4" font-size="9" font-weight="bold" fill="#363636" text-anchor="start" textLength="12.5" lengthAdjust="spacingAndGlyphs">116</text>
<path d="M478.8,771.7L473.8,771.7L473.4,797.5" fill="none" stroke="#b8b8b8" stroke-width="0.8"/>
<text x="479.8" y="774.9" font-size="9" font-weight="bold" fill="#363636" text-anchor="start" textLength="31.2" lengthAdjust="spacingAndGlyphs">229.700</text>
<path d="M494.9,794.4L489.9,794.4L487.3,804.6" fill="none" stroke="#b8b8b8" stroke-width="0.8"/>
<text x="495.9" y="797.6" font-size="9" font-weight="bold" fill="#363636" text-anchor="start" textLength="32.0" lengthAdjust="spacingAndGlyphs">217.622</text>
<path d="M509.3,911.2L504.3,911.2L501.1,925.0" fill="none" stroke="#b8b8b8" stroke-width="0.8"/>
<text x="510.3" y="914.4" font-size="9" font-weight="bold" fill="#363636" text-anchor="start" textLength="25.4" lengthAdjust="spacingAndGlyphs">12.058</text>
<path d="M519.0,923.3L514.0,923.3L515.0,932.0" fill="none" stroke="#b8b8b8" stroke-width="0.8"/>
<text x="520.0" y="926.5" font-size="9" font-weight="bold" fill="#363636" text-anchor="start" textLength="9.8" lengthAdjust="spacingAndGlyphs">20</text>
<path d="M560.4,776.0L549.4,799.0" fill="none" stroke="#b8b8b8" stroke-width="0.8"/>
<text x="544.7" y="774.2" font-size="9" font-weight="bold" fill="#363636" text-anchor="start" textLength="31.3" lengthAdjust="spacingAndGlyphs">227.194</text>
<path d="M575.7,802.2L570.7,802.2L563.3,812.0" fill="none" stroke="#b8b8b8" stroke-width="0.8"/>
<text x="576.7" y="805.4" font-size="9" font-weight="bold" fill="#363636" text-anchor="start" textLength="32.0" lengthAdjust="spacingAndGlyphs">205.085</text>
<path d="M582.8,907.7L577.8,907.7L577.1,919.6" fill="none" stroke="#b8b8b8" stroke-width="0.8"/>
<text x="583.8" y="910.9" font-size="9" font-weight="bold" fill="#363636" text-anchor="start" textLength="26.2" lengthAdjust="spacingAndGlyphs">21.262</text>
<path d="M596.4,920.2L591.4,920.2L591.0,931.6" fill="none" stroke="#b8b8b8" stroke-width="0.8"/>
<text x="597.4" y="923.4" font-size="9" font-weight="bold" fill="#363636" text-anchor="start" textLength="14.5" lengthAdjust="spacingAndGlyphs">847</text>
<path d="M629.6,771.7L624.6,771.7L625.4,799.6" fill="none" stroke="#b8b8b8" stroke-width="0.8"/>
<text x="630.6" y="774.9" font-size="9" font-weight="bold" fill="#363636" text-anchor="start" textLength="30.1" lengthAdjust="spacingAndGlyphs">226.141</text>
<path d="M651.1,805.7L646.1,805.7L639.3,808.2" fill="none" stroke="#b8b8b8" stroke-width="0.8"/>
<text x="652.1" y="808.9" font-size="9" font-weight="bold" fill="#363636" text-anchor="start" textLength="32.0" lengthAdjust="spacingAndGlyphs">211.504</text>
<path d="M667.5,917.3L653.1,923.5" fill="none" stroke="#b8b8b8" stroke-width="0.8"/>
<text x="654.8" y="915.5" font-size="9" font-weight="bold" fill="#363636" text-anchor="start" textLength="25.4" lengthAdjust="spacingAndGlyphs">14.561</text>
<path d="M672.6,924.0L667.6,924.0L667.0,932.0" fill="none" stroke="#b8b8b8" stroke-width="0.8"/>
<text x="673.6" y="927.2" font-size="9" font-weight="bold" fill="#363636" text-anchor="start" textLength="9.4" lengthAdjust="spacingAndGlyphs">76</text>
<path d="M718.7,777.5L701.4,801.4" fill="none" stroke="#b8b8b8" stroke-width="0.8"/>
<text x="703.7" y="775.7" font-size="9" font-weight="bold" fill="#363636" text-anchor="start" textLength="30.0" lengthAdjust="spacingAndGlyphs">223.036</text>
<path d="M726.1,799.8L721.1,799.8L715.3,812.9" fill="none" stroke="#b8b8b8" stroke-width="0.8"/>
<text x="727.1" y="803.0" font-size="9" font-weight="bold" fill="#363636" text-anchor="start" textLength="31.3" lengthAdjust="spacingAndGlyphs">203.512</text>
<path d="M735.9,905.3L730.9,905.3L729.1,920.7" fill="none" stroke="#b8b8b8" stroke-width="0.8"/>
<text x="736.9" y="908.5" font-size="9" font-weight="bold" fill="#363636" text-anchor="start" textLength="25.4" lengthAdjust="spacingAndGlyphs">19.420</text>
<path d="M749.5,928.3L743.0,932.0" fill="none" stroke="#b8b8b8" stroke-width="0.8"/>
<text x="742.7" y="926.5" font-size="9" font-weight="bold" fill="#363636" text-anchor="start" textLength="13.7" lengthAdjust="spacingAndGlyphs">104</text>
<rect x="844.8" y="801.7" width="49.6" height="124.1" fill="#ffffff"/>
<rect x="894.4" y="801.7" width="52.1" height="124.1" fill="#b2f5df"/>
<rect x="946.5" y="801.7" width="36.5" height="124.1" fill="#fccccc"/>
<rect x="983.0" y="801.7" width="36.4" height="124.1" fill="#ffc000"/>
<line x1="844.8" y1="814.1" x2="1019.4" y2="814.1" stroke="#3a3a3a" stroke-width="1"/>
<line x1="844.8" y1="826.5" x2="1019.4" y2="826.5" stroke="#3a3a3a" stroke-width="1"/>
<line x1="844.8" y1="838.9" x2="1019.4" y2="838.9" stroke="#3a3a3a" stroke-width="1"/>
<line x1="844.8" y1="851.3" x2="1019.4" y2="851.3" stroke="#3a3a3a" stroke-width="1"/>
<line x1="844.8" y1="863.8" x2="1019.4" y2="863.8" stroke="#3a3a3a" stroke-width="1"/>
<line x1="844.8" y1="876.2" x2="1019.4" y2="876.2" stroke="#3a3a3a" stroke-width="1"/>
<line x1="844.8" y1="888.6" x2="1019.4" y2="888.6" stroke="#3a3a3a" stroke-width="1"/>
<line x1="844.8" y1="901.0" x2="1019.4" y2="901.0" stroke="#3a3a3a" stroke-width="1"/>
<line x1="844.8" y1="913.4" x2="1019.4" y2="913.4" stroke="#3a3a3a" stroke-width="1"/>
<line x1="894.4" y1="801.7" x2="894.4" y2="925.8" stroke="#3a3a3a" stroke-width="1"/>
<line x1="946.5" y1="801.7" x2="946.5" y2="925.8" stroke="#3a3a3a" stroke-width="1"/>
<line x1="983.0" y1="801.7" x2="983.0" y2="925.8" stroke="#3a3a3a" stroke-width="1"/>
<rect x="844.8" y="801.7" width="174.6" height="124.1" fill="none" stroke="#1e1e1e" stroke-width="1.4"/>
<text x="869.6" y="810.9" font-size="8.2" font-weight="bold" fill="#353535" text-anchor="middle" textLength="25.1" lengthAdjust="spacingAndGlyphs">jan/25</text>
<text x="920.5" y="810.9" font-size="8.2" font-weight="bold" fill="#353535" text-anchor="middle">92,64%</text>
<text x="964.8" y="810.9" font-size="8.2" font-weight="bold" fill="#353535" text-anchor="middle">6,29%</text>
<text x="1001.2" y="810.9" font-size="8.2" font-weight="bold" fill="#353535" text-anchor="middle">1,10%</text>
<text x="869.6" y="823.3" font-size="8.2" font-weight="bold" fill="#353535" text-anchor="middle" textLength="25.1" lengthAdjust="spacingAndGlyphs">fev/25</text>
<text x="920.5" y="823.3" font-size="8.2" font-weight="bold" fill="#353535" text-anchor="middle">94,37%</text>
<text x="964.8" y="823.3" font-size="8.2" font-weight="bold" fill="#353535" text-anchor="middle">5,15%</text>
<text x="1001.2" y="823.3" font-size="8.2" font-weight="bold" fill="#353535" text-anchor="middle">0,48%</text>
<text x="869.6" y="835.7" font-size="8.2" font-weight="bold" fill="#353535" text-anchor="middle" textLength="28.6" lengthAdjust="spacingAndGlyphs">mar/25</text>
<text x="920.5" y="835.7" font-size="8.2" font-weight="bold" fill="#353535" text-anchor="middle">93,67%</text>
<text x="964.8" y="835.7" font-size="8.2" font-weight="bold" fill="#353535" text-anchor="middle">6,18%</text>
<text x="1001.2" y="835.7" font-size="8.2" font-weight="bold" fill="#353535" text-anchor="middle">0,15%</text>
<text x="869.6" y="848.1" font-size="8.2" font-weight="bold" fill="#353535" text-anchor="middle" textLength="26.1" lengthAdjust="spacingAndGlyphs">abr/25</text>
<text x="920.5" y="848.1" font-size="8.2" font-weight="bold" fill="#353535" text-anchor="middle">91,99%</text>
<text x="964.8" y="848.1" font-size="8.2" font-weight="bold" fill="#353535" text-anchor="middle">7,91%</text>
<text x="1001.2" y="848.1" font-size="8.2" font-weight="bold" fill="#353535" text-anchor="middle">0,10%</text>
<text x="869.6" y="860.5" font-size="8.2" font-weight="bold" fill="#353535" text-anchor="middle" textLength="27.6" lengthAdjust="spacingAndGlyphs">mai/25</text>
<text x="920.5" y="860.5" font-size="8.2" font-weight="bold" fill="#353535" text-anchor="middle">91,73%</text>
<text x="964.8" y="860.5" font-size="8.2" font-weight="bold" fill="#353535" text-anchor="middle">8,22%</text>
<text x="1001.2" y="860.5" font-size="8.2" font-weight="bold" fill="#353535" text-anchor="middle">0,05%</text>
<text x="869.6" y="872.9" font-size="8.2" font-weight="bold" fill="#353535" text-anchor="middle" textLength="25.6" lengthAdjust="spacingAndGlyphs">jun/25</text>
<text x="920.5" y="872.9" font-size="8.2" font-weight="bold" fill="#353535" text-anchor="middle">94,74%</text>
<text x="964.8" y="872.9" font-size="8.2" font-weight="bold" fill="#353535" text-anchor="middle">5,25%</text>
<text x="1001.2" y="872.9" font-size="8.2" font-weight="bold" fill="#353535" text-anchor="middle">0,01%</text>
<text x="869.6" y="885.3" font-size="8.2" font-weight="bold" fill="#353535" text-anchor="middle" textLength="28.1" lengthAdjust="spacingAndGlyphs">ago/25</text>
<text x="920.5" y="885.3" font-size="8.2" font-weight="bold" fill="#353535" text-anchor="middle">90,27%</text>
<text x="964.8" y="885.3" font-size="8.2" font-weight="bold" fill="#353535" text-anchor="middle">9,36%</text>
<text x="1001.2" y="885.3" font-size="8.2" font-weight="bold" fill="#353535" text-anchor="middle">0,37%</text>
<text x="869.6" y="897.7" font-size="8.2" font-weight="bold" fill="#353535" text-anchor="middle" textLength="25.1" lengthAdjust="spacingAndGlyphs">set/25</text>
<text x="920.5" y="897.7" font-size="8.2" font-weight="bold" fill="#353535" text-anchor="middle">93,53%</text>
<text x="964.8" y="897.7" font-size="8.2" font-weight="bold" fill="#353535" text-anchor="middle">6,44%</text>
<text x="1001.2" y="897.7" font-size="8.2" font-weight="bold" fill="#353535" text-anchor="middle">0,03%</text>
<text x="869.6" y="910.1" font-size="8.2" font-weight="bold" fill="#353535" text-anchor="middle" textLength="26.1" lengthAdjust="spacingAndGlyphs">out/25</text>
<text x="920.5" y="910.1" font-size="8.2" font-weight="bold" fill="#353535" text-anchor="middle">91,25%</text>
<text x="964.8" y="910.1" font-size="8.2" font-weight="bold" fill="#353535" text-anchor="middle">8,71%</text>
<text x="1001.2" y="910.1" font-size="8.2" font-weight="bold" fill="#353535" text-anchor="middle">0,05%</text>
<text x="869.6" y="922.5" font-size="8.2" font-weight="bold" fill="#353535" text-anchor="middle" textLength="28.1" lengthAdjust="spacingAndGlyphs">nov/25</text>
<rect x="312.3" y="964.1" width="5.6" height="5.3" fill="#02a9ee" stroke="#2a2a2a" stroke-width="0.6"/>
<text x="320.0" y="969.9" font-size="8.7" font-weight="bold" fill="#333" text-anchor="start" textLength="24.0" lengthAdjust="spacingAndGlyphs">TOTAL</text>
<rect x="357.2" y="964.1" width="5.6" height="5.3" fill="#06ffcc" stroke="#2a2a2a" stroke-width="0.6"/>
<text x="364.5" y="969.9" font-size="8.7" font-weight="bold" fill="#333" text-anchor="start" textLength="46.9" lengthAdjust="spacingAndGlyphs">FREQUENTE</text>
<rect x="424.6" y="964.1" width="5.6" height="5.3" fill="#ff0000" stroke="#2a2a2a" stroke-width="0.6"/>
<text x="432.0" y="969.9" font-size="8.7" font-weight="bold" fill="#333" text-anchor="start" textLength="55.0" lengthAdjust="spacingAndGlyphs">INFREQUENTE</text>
<rect x="500.3" y="964.1" width="5.6" height="5.3" fill="#ffc000" stroke="#2a2a2a" stroke-width="0.6"/>
<text x="507.6" y="969.9" font-size="8.7" font-weight="bold" fill="#333" text-anchor="start" textLength="67.4" lengthAdjust="spacingAndGlyphs">NÃO INFORMADA</text>
<g fill="#1ea243" stroke="#1ea243" stroke-width="1.4" stroke-linejoin="round">
<text x="23.2" y="669.6" font-size="22.5" font-weight="bold" fill="#1ea243" text-anchor="start" textLength="14.6" lengthAdjust="spacingAndGlyphs" stroke="#1ea243" stroke-width="1.4">b</text>
<text x="54.4" y="669.6" font-size="22.5" font-weight="bold" fill="#1ea243" text-anchor="start" textLength="29.6" lengthAdjust="spacingAndGlyphs" stroke="#1ea243" stroke-width="1.4">lsa</text>
<text x="28.2" y="686.8" font-size="22.5" font-weight="bold" fill="#1ea243" text-anchor="start" textLength="63.0" lengthAdjust="spacingAndGlyphs" stroke="#1ea243" stroke-width="1.4">estud</text>
</g>
<circle cx="45.3" cy="661.7" r="5.4" fill="#1f4ea6"/>
<path d="M39,667.4 L45.3,670.6 L51.8,667.4" fill="none" stroke="#f1d31d" stroke-width="3" stroke-linejoin="round"/>
<circle cx="99.7" cy="680.3" r="5.7" fill="none" stroke="#1ea243" stroke-width="3"/>
<path d="M99.7,684.8 C95.6,681.6 94.9,679.9 95.3,678.2 C95.9,676.2 98.5,675.9 99.7,677.8 C100.9,675.9 103.5,676.2 104.1,678.2 C104.5,679.9 103.8,681.6 99.7,684.8Z" fill="#f7d51a"/>
<text x="885.4" y="671.9" font-size="4.2" font-weight="bold" fill="#2fb36a" text-anchor="end" textLength="17.5" lengthAdjust="spacingAndGlyphs">SEDUC</text>
<text x="885.4" y="677.5" font-size="3.6" font-weight="bold" fill="#44c07d" text-anchor="end" textLength="37.5" lengthAdjust="spacingAndGlyphs">Secretaria de Estado</text>
<text x="885.4" y="681.6" font-size="3.6" font-weight="bold" fill="#44c07d" text-anchor="end" textLength="24.0" lengthAdjust="spacingAndGlyphs">da Educação</text>
<line x1="897.8" y1="657.5" x2="897.8" y2="688" stroke="#d0d0d0" stroke-width="1"/>
<path d="M909.7,664.90 L921.6,662.90 L921.6,665.35 L909.7,667.35Z" fill="#2aa63c"/>
<path d="M921.2,664.40 L932.2,662.80 L932.2,665.35 L921.2,666.95Z" fill="#2aa63c"/>
<path d="M909.7,667.35 L921.6,665.35 L921.6,667.80 L909.7,669.80Z" fill="#f3d21a"/>
<path d="M921.2,666.95 L932.2,665.35 L932.2,667.90 L921.2,669.50Z" fill="#f3d21a"/>
<path d="M909.7,669.80 L921.6,667.80 L921.6,670.25 L909.7,672.25Z" fill="#2aa63c"/>
<path d="M921.2,669.50 L932.2,667.90 L932.2,670.45 L921.2,672.05Z" fill="#2aa63c"/>
<path d="M909.7,672.25 L921.6,670.25 L921.6,672.70 L909.7,674.70Z" fill="#f3d21a"/>
<path d="M921.2,672.05 L932.2,670.45 L932.2,673.00 L921.2,674.60Z" fill="#f3d21a"/>
<path d="M909.7,674.70 L921.6,672.70 L921.6,675.15 L909.7,677.15Z" fill="#2aa63c"/>
<path d="M921.2,674.60 L932.2,673.00 L932.2,675.55 L921.2,677.15Z" fill="#2aa63c"/>
<path d="M909.7,677.15 L921.6,675.15 L921.6,677.60 L909.7,679.60Z" fill="#f3d21a"/>
<path d="M921.2,677.15 L932.2,675.55 L932.2,678.10 L921.2,679.70Z" fill="#f3d21a"/>
<path d="M909.7,679.60 L921.6,677.60 L921.6,680.05 L909.7,682.05Z" fill="#2aa63c"/>
<path d="M921.2,679.70 L932.2,678.10 L932.2,680.65 L921.2,682.25Z" fill="#2aa63c"/>
<path d="M909.7,682.05 L921.6,680.05 L921.6,682.50 L909.7,684.50Z" fill="#f3d21a"/>
<path d="M921.2,682.25 L932.2,680.65 L932.2,683.20 L921.2,684.80Z" fill="#f3d21a"/>
<path d="M909.7,664.9 L918.5,663.4 L918.5,671.0 L909.7,672.5Z" fill="#2a55a8"/>
<circle cx="911.5" cy="666.5" r="0.6" fill="#ffffff"/>
<circle cx="914" cy="666" r="0.6" fill="#ffffff"/>
<circle cx="916.7" cy="665.5" r="0.6" fill="#ffffff"/>
<circle cx="912.5" cy="669.5" r="0.6" fill="#ffffff"/>
<circle cx="915.3" cy="669" r="0.6" fill="#ffffff"/>
<circle cx="917.5" cy="668.2" r="0.6" fill="#ffffff"/>
<text x="929.2" y="681.7" font-size="23" font-weight="bold" fill="#26a83e" text-anchor="start" textLength="75.5" lengthAdjust="spacingAndGlyphs" stroke="#26a83e" stroke-width="0.8">GOIÁS</text>
<text x="935.4" y="661.6" font-size="3.4" font-weight="bold" fill="#9fd3a6" text-anchor="start" textLength="63.0" lengthAdjust="spacingAndGlyphs">G O V E R N O   D E</text>
<text x="935.4" y="688.6" font-size="4.2" font-weight="bold" fill="#26a83e" text-anchor="start" textLength="63.0" lengthAdjust="spacingAndGlyphs">O ESTADO QUE DÁ CERTO</text>
</svg>
</body></html>
